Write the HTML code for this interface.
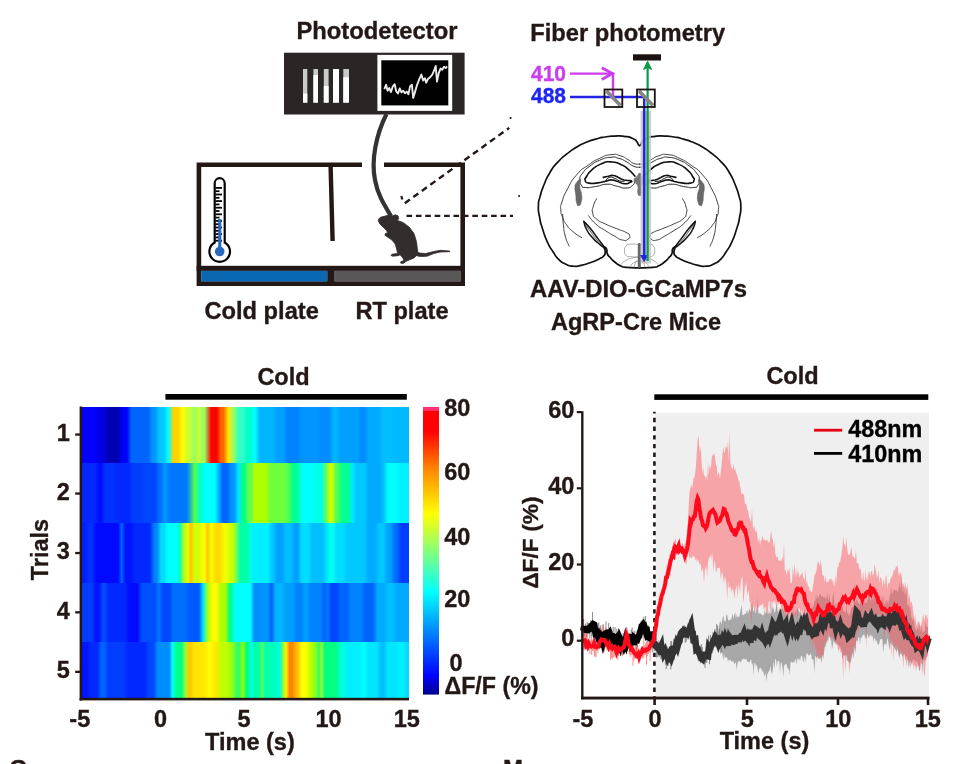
<!DOCTYPE html>
<html><head><meta charset="utf-8"><title>Figure</title>
<style>
html,body{margin:0;padding:0;background:#fff;}
body{width:968px;height:764px;overflow:hidden;font-family:"Liberation Sans",sans-serif;}
svg{display:block;font-family:"Liberation Sans",sans-serif;font-weight:bold;}
svg{will-change:transform;}
</style></head><body>
<svg width="968" height="764" viewBox="0 0 968 764">
<rect x="0" y="0" width="968" height="764" fill="#ffffff"/>
<g opacity="0.999">
<text x="296.4" y="39" font-size="23.5" text-anchor="start" fill="#231815" stroke="#231815" stroke-width="0.35" textLength="161" lengthAdjust="spacingAndGlyphs">Photodetector</text>
<rect x="284" y="52.7" width="180.6" height="61.8" fill="#2b2526"/>
<rect x="303" y="69" width="4.3" height="33.6" fill="#c9cccb"/>
<rect x="303" y="93.5" width="4.3" height="9.1" fill="#ffffff"/>
<rect x="313.4" y="69" width="4.6" height="33.6" fill="#c9cccb"/>
<rect x="313.4" y="75" width="4.6" height="27.6" fill="#ffffff"/>
<rect x="323.8" y="69" width="4.8" height="33.6" fill="#c9cccb"/>
<rect x="323.8" y="86" width="4.8" height="16.6" fill="#ffffff"/>
<rect x="333" y="69" width="6.0" height="33.6" fill="#c9cccb"/>
<rect x="333" y="69" width="6.0" height="33.6" fill="#ffffff"/>
<rect x="343.3" y="69" width="5.7" height="33.6" fill="#c9cccb"/>
<rect x="343.3" y="77.2" width="5.7" height="25.4" fill="#ffffff"/>
<rect x="377.4" y="54.9" width="74.8" height="56" fill="#ffffff"/>
<rect x="381.3" y="60.3" width="67" height="45.1" fill="#000000"/>
<polyline points="384.3,89.2 386.1,84.8 387.6,90.7 389.3,88.1 391.0,92.0 392.8,86.4 394.7,84.2 396.2,91.3 398.0,93.5 399.7,88.5 401.5,92.4 403.2,90.7 404.9,93.3 406.7,91.6 408.4,94.2 410.1,86.4 411.9,84.8 413.2,97.9 414.9,92.4 417.1,84.8 419.2,79.4 421.4,74.6 423.1,80.5 424.9,78.3 426.2,82.7 427.9,79.0 430.1,77.2 432.3,74.6 434.0,70.7 435.7,66.0 437.0,81.6 438.8,72.9 440.5,68.6 442.2,69.7 444.0,66.8 445.7,68.1 447.0,66.4" fill="none" stroke="#ffffff" stroke-width="1.9" stroke-opacity="0.92" stroke-linejoin="round"/>
<path d="M386.5,114 C376,135 371,160 375,180 C378,196 385,206 391,216" fill="none" stroke="#333333" stroke-width="4.2"/>
<path d="M362,164.7 H198.9 V283.6 H462.7 V164.7 H384" fill="none" stroke="#231815" stroke-width="4.6" stroke-linejoin="miter"/>
<rect x="196.6" y="265.8" width="268.4" height="5.1" fill="#231815"/>
<rect x="327.2" y="268" width="7.5" height="16" fill="#231815"/>
<rect x="201.2" y="270.9" width="126" height="10.6" fill="#0a67b2"/>
<rect x="334.7" y="270.9" width="126" height="10.6" fill="#595757"/>
<path d="M330.6,166 L332.6,241" stroke="#231815" stroke-width="4.4" fill="none"/>
<path d="M214.7,183.2 a5,5 0 0 1 10,0 V242.5 a10.3,10.3 0 1 1 -10,0 Z" fill="#ffffff" stroke="#000000" stroke-width="2.2"/>
<rect x="215.5" y="187.0" width="6.5" height="1.8" fill="#000"/>
<rect x="215.5" y="190.3" width="4" height="1.8" fill="#000"/>
<rect x="215.5" y="193.6" width="6.5" height="1.8" fill="#000"/>
<rect x="215.5" y="196.9" width="4" height="1.8" fill="#000"/>
<rect x="215.5" y="200.2" width="6.5" height="1.8" fill="#000"/>
<rect x="215.5" y="203.5" width="4" height="1.8" fill="#000"/>
<rect x="215.5" y="206.8" width="6.5" height="1.8" fill="#000"/>
<rect x="215.5" y="210.1" width="4" height="1.8" fill="#000"/>
<rect x="215.5" y="213.4" width="6.5" height="1.8" fill="#000"/>
<rect x="215.5" y="216.7" width="4" height="1.8" fill="#000"/>
<rect x="215.5" y="220.0" width="6.5" height="1.8" fill="#000"/>
<rect x="215.5" y="223.3" width="4" height="1.8" fill="#000"/>
<rect x="215.5" y="226.6" width="6.5" height="1.8" fill="#000"/>
<rect x="215.5" y="229.9" width="4" height="1.8" fill="#000"/>
<rect x="215.5" y="233.2" width="6.5" height="1.8" fill="#000"/>
<rect x="215.5" y="236.5" width="4" height="1.8" fill="#000"/>
<rect x="215.5" y="239.8" width="6.5" height="1.8" fill="#000"/>
<rect x="218.2" y="219" width="3.1" height="30" fill="#2a69bf"/>
<circle cx="219.7" cy="251.5" r="4.8" fill="#2a69bf"/>
<path d="M378.8,218.8 L381.0,217.1 L386.2,215.8 L389.1,214.8 L392.7,215.8 L395.2,214.8 L398.0,215.8 L398.8,218.4 L397.3,220.4 L402.9,222.4 L409.1,226.9 L414.0,233.5 L416.5,241.7 L417.3,248.2 L417.8,252.1 L419.7,253.1 L425.5,253.5 L433.7,251.5 L440.2,250.3 L449.7,251.0 L449.7,251.7 L440.2,252.0 L433.7,253.6 L427.1,256.2 L420.6,256.6 L416.5,255.7 L414.0,258.0 L409.1,260.0 L406.2,261.3 L403.2,263.4 L400.6,263.1 L400.9,261.6 L403.9,260.7 L402.9,258.0 L400.1,254.8 L398.0,255.7 L392.7,256.2 L390.8,255.3 L392.7,254.1 L397.6,253.5 L396.8,249.9 L395.2,244.1 L391.9,240.0 L387.8,237.2 L384.9,235.3 L385.4,233.5 L387.8,232.7 L386.2,230.2 L382.9,226.9 L379.6,223.7 L378.3,220.7Z" fill="#332d2e" stroke="#332d2e" stroke-width="0.8" stroke-linejoin="round"/>
<path d="M401.3,196 L402.3,199.5" fill="none" stroke="#231815" stroke-width="2.2"/>
<path d="M404.8,203.2 L509.2,127.9" fill="none" stroke="#231815" stroke-width="2.4" stroke-dasharray="6.2,4.3"/>
<circle cx="510.6" cy="118" r="1.1" fill="#231815"/>
<circle cx="519.1" cy="196.1" r="1.0" fill="#231815"/>
<path d="M406.5,215.8 H513" fill="none" stroke="#231815" stroke-width="2.2" stroke-dasharray="5.6,3.8"/>
<text x="204.4" y="319.2" font-size="23.5" text-anchor="start" fill="#231815" stroke="#231815" stroke-width="0.35" textLength="114.5" lengthAdjust="spacingAndGlyphs">Cold plate</text>
<text x="355.4" y="319.2" font-size="23.5" text-anchor="start" fill="#231815" stroke="#231815" stroke-width="0.35" textLength="93.2" lengthAdjust="spacingAndGlyphs">RT plate</text>
<text x="530.2" y="40.5" font-size="23.5" text-anchor="start" fill="#231815" stroke="#231815" stroke-width="0.35" textLength="195" lengthAdjust="spacingAndGlyphs">Fiber photometry</text>
<text x="531" y="80.6" font-size="21.5" text-anchor="start" fill="#cc3dee" stroke="#cc3dee" stroke-width="0.35" textLength="35" lengthAdjust="spacingAndGlyphs">410</text>
<text x="531" y="103.2" font-size="21.5" text-anchor="start" fill="#1d25f5" stroke="#1d25f5" stroke-width="0.35" textLength="35" lengthAdjust="spacingAndGlyphs">488</text>
<rect x="633" y="54.3" width="28" height="6.2" fill="#1a1311"/>

<path d="M639.7,145.6 C639.2,145.3 639.4,146.2 638.4,144.8 C637.3,143.4 638.7,143.6 636.6,141.4 C634.6,139.2 636.3,139.9 632.1,138.2 C627.9,136.4 629.9,137.0 624.1,136.3 C618.3,135.6 621.0,135.8 614.7,136.1 C608.3,136.3 611.5,136.0 605.2,137.0 C598.8,138.0 602.0,137.3 595.7,139.1 C589.4,140.9 592.5,139.7 586.2,142.3 C579.9,145.0 583.0,143.3 576.7,147.1 C570.4,150.9 573.6,148.6 567.2,153.7 C560.9,158.8 563.6,155.9 557.8,162.2 C551.9,168.6 554.4,165.1 549.8,172.7 C545.2,180.3 547.1,177.1 543.9,185.0 C540.7,192.9 542.0,189.4 540.1,196.4 C538.3,203.3 538.6,198.9 538.4,205.9 C538.2,212.8 538.2,209.5 539.6,217.2 C540.9,224.9 540.0,220.8 542.6,229.0 C545.2,237.2 543.9,234.3 547.3,241.9 C550.8,249.5 549.2,245.9 553.0,251.8 C556.8,257.6 554.6,255.3 558.7,259.3 C562.8,263.4 560.6,261.6 565.3,263.9 C570.1,266.2 567.7,265.7 572.9,266.2 C578.1,266.7 575.2,266.5 580.9,265.4 C586.6,264.3 583.9,264.9 590.0,262.8 C596.1,260.6 594.5,261.2 599.1,259.0 C603.7,256.7 601.6,258.1 603.7,255.9 C605.7,253.7 604.9,255.0 605.2,252.3 C605.4,249.7 604.3,249.5 604.4,248.0 C604.5,246.4 604.7,246.9 605.5,247.6 C606.4,248.2 606.3,247.8 606.9,249.9 C607.4,251.9 606.2,251.1 607.3,253.6 C608.3,256.2 607.6,254.7 610.1,257.4 C612.6,260.2 611.2,259.2 614.7,262.0 C618.1,264.8 616.4,264.0 620.3,265.8 C624.3,267.6 620.0,266.6 626.4,267.3 C632.9,268.0 635.3,267.7 639.7,267.9" fill="none" stroke="#111111" stroke-width="1.7" stroke-linecap="round" stroke-linejoin="round"/>
<path d="M639.5,145.6 C640.0,145.3 639.8,146.2 640.8,144.8 C641.9,143.4 640.5,143.6 642.6,141.4 C644.6,139.2 642.9,139.9 647.1,138.2 C651.3,136.4 649.3,137.0 655.1,136.3 C660.9,135.6 658.2,135.8 664.5,136.1 C670.9,136.3 667.7,136.0 674.0,137.0 C680.4,138.0 677.2,137.3 683.5,139.1 C689.8,140.9 686.7,139.7 693.0,142.3 C699.3,145.0 696.2,143.3 702.5,147.1 C708.8,150.9 705.6,148.6 712.0,153.7 C718.3,158.8 715.6,155.9 721.4,162.2 C727.3,168.6 724.8,165.1 729.4,172.7 C734.0,180.3 732.1,177.1 735.3,185.0 C738.5,192.9 737.2,189.4 739.1,196.4 C740.9,203.3 740.6,198.9 740.8,205.9 C741.0,212.8 741.0,209.5 739.6,217.2 C738.3,224.9 739.2,220.8 736.6,229.0 C734.0,237.2 735.3,234.3 731.9,241.9 C728.4,249.5 730.0,245.9 726.2,251.8 C722.4,257.6 724.6,255.3 720.5,259.3 C716.4,263.4 718.6,261.6 713.9,263.9 C709.1,266.2 711.5,265.7 706.3,266.2 C701.1,266.7 704.0,266.5 698.3,265.4 C692.6,264.3 695.3,264.9 689.2,262.8 C683.1,260.6 684.7,261.2 680.1,259.0 C675.5,256.7 677.6,258.1 675.5,255.9 C673.5,253.7 674.3,255.0 674.0,252.3 C673.8,249.7 674.9,249.5 674.8,248.0 C674.7,246.4 674.5,246.9 673.7,247.6 C672.8,248.2 672.9,247.8 672.3,249.9 C671.8,251.9 673.0,251.1 671.9,253.6 C670.9,256.2 671.6,254.7 669.1,257.4 C666.6,260.2 668.0,259.2 664.5,262.0 C661.1,264.8 662.8,264.0 658.9,265.8 C654.9,267.6 659.2,266.6 652.8,267.3 C646.3,268.0 643.9,267.7 639.5,267.9" fill="none" stroke="#111111" stroke-width="1.7" stroke-linecap="round" stroke-linejoin="round"/>
<path d="M639.7,164.1 C637.7,163.9 637.5,164.9 633.6,163.4 C629.7,161.9 632.4,162.1 627.9,159.6 C623.5,157.1 626.0,157.4 620.3,155.8 C614.7,154.1 617.8,153.8 610.9,154.7 C603.9,155.5 607.1,154.9 599.5,158.4 C591.9,162.0 595.7,159.8 588.1,165.3 C580.5,170.7 583.5,166.9 576.7,174.8 C569.9,182.6 572.5,179.7 567.6,188.8 C562.7,197.9 564.2,195.1 561.9,202.1 C559.7,209.0 560.5,204.5 560.8,209.7 C561.0,214.8 560.8,212.6 562.7,217.6 C564.6,222.7 563.1,220.1 566.5,224.8 C569.9,229.5 567.9,227.4 572.9,231.6 C578.0,235.9 578.7,235.7 581.7,237.7" fill="none" stroke="#111111" stroke-width="0.8" stroke-linecap="round" stroke-linejoin="round"/>
<path d="M639.5,164.1 C641.5,163.9 641.7,164.9 645.6,163.4 C649.5,161.9 646.8,162.1 651.3,159.6 C655.7,157.1 653.2,157.4 658.9,155.8 C664.5,154.1 661.4,153.8 668.3,154.7 C675.3,155.5 672.1,154.9 679.7,158.4 C687.3,162.0 683.5,159.8 691.1,165.3 C698.7,170.7 695.7,166.9 702.5,174.8 C709.3,182.6 706.7,179.7 711.6,188.8 C716.5,197.9 715.0,195.1 717.3,202.1 C719.5,209.0 718.7,204.5 718.4,209.7 C718.2,214.8 718.4,212.6 716.5,217.6 C714.6,222.7 716.1,220.1 712.7,224.8 C709.3,229.5 711.3,227.4 706.3,231.6 C701.2,235.9 700.5,235.7 697.5,237.7" fill="none" stroke="#111111" stroke-width="0.8" stroke-linecap="round" stroke-linejoin="round"/>
<path d="M562.7,214.4 C562.9,217.9 562.6,217.6 563.4,224.8 C564.3,232.1 563.4,229.1 565.3,236.2 C567.2,243.3 567.9,242.8 569.1,246.1" fill="none" stroke="#111111" stroke-width="0.8" stroke-linecap="round" stroke-linejoin="round"/>
<path d="M716.5,214.4 C716.3,217.9 716.6,217.6 715.8,224.8 C714.9,232.1 715.8,229.1 713.9,236.2 C712.0,243.3 711.3,242.8 710.1,246.1" fill="none" stroke="#111111" stroke-width="0.8" stroke-linecap="round" stroke-linejoin="round"/>
<path d="M639.7,167.2 C637.7,166.9 638.2,168.1 633.6,166.2 C629.1,164.3 631.1,164.1 626.0,161.5 C621.0,158.8 623.5,159.6 618.4,158.3 C613.4,156.9 617.2,156.6 610.9,157.3 C604.5,158.0 606.4,157.4 599.5,160.3 C592.5,163.3 595.6,161.9 590.0,166.0 C584.4,170.2 586.2,168.4 582.8,172.9 C579.4,177.3 580.3,175.3 579.8,179.3 C579.3,183.4 579.4,182.3 581.3,185.0 C583.2,187.7 580.6,187.0 585.4,187.5 C590.3,188.0 588.5,187.6 595.7,186.5 C602.9,185.4 600.1,184.4 607.1,184.2 C614.0,184.1 610.2,184.9 616.5,186.1 C622.9,187.4 620.7,188.3 626.0,188.0 C631.3,187.8 629.6,187.5 632.5,185.4 C635.4,183.2 634.0,182.8 634.8,181.6" fill="none" stroke="#111111" stroke-width="0.9" stroke-linecap="round" stroke-linejoin="round"/>
<path d="M639.5,167.2 C641.5,166.9 641.0,168.1 645.6,166.2 C650.1,164.3 648.1,164.1 653.2,161.5 C658.2,158.8 655.7,159.6 660.8,158.3 C665.8,156.9 662.0,156.6 668.3,157.3 C674.7,158.0 672.8,157.4 679.7,160.3 C686.7,163.3 683.6,161.9 689.2,166.0 C694.8,170.2 693.0,168.4 696.4,172.9 C699.8,177.3 698.9,175.3 699.4,179.3 C699.9,183.4 699.8,182.3 697.9,185.0 C696.0,187.7 698.6,187.0 693.8,187.5 C688.9,188.0 690.7,187.6 683.5,186.5 C676.3,185.4 679.1,184.4 672.1,184.2 C665.2,184.1 669.0,184.9 662.7,186.1 C656.3,187.4 658.5,188.3 653.2,188.0 C647.9,187.8 649.6,187.5 646.7,185.4 C643.8,183.2 645.2,182.8 644.4,181.6" fill="none" stroke="#111111" stroke-width="0.9" stroke-linecap="round" stroke-linejoin="round"/>
<path d="M634.9,176.1 C632.7,173.8 633.2,173.2 628.3,169.3 C623.4,165.3 626.2,166.8 620.3,164.3 C614.5,161.9 617.2,162.1 610.9,161.9 C604.5,161.7 607.7,161.1 601.4,163.8 C595.1,166.4 596.8,165.6 591.9,169.8 C587.0,174.1 588.8,172.9 586.6,176.5 C584.4,180.0 584.5,178.2 585.3,180.4 C586.0,182.7 584.8,182.3 588.9,183.1 C593.0,183.9 592.0,183.5 597.6,182.9 C603.1,182.3 601.0,182.2 605.5,181.2 C610.1,180.2 607.4,179.9 611.2,179.9 C615.0,179.9 612.6,179.9 616.9,181.2 C621.2,182.5 620.0,183.2 624.1,183.7 C628.3,184.2 627.2,183.7 629.4,182.7 C631.7,181.8 632.7,181.7 631.0,180.8 C629.2,179.9 628.3,181.2 624.1,180.1 C620.0,178.9 622.1,178.9 618.4,177.4 C614.8,175.9 616.5,175.9 613.1,175.5 C609.7,175.1 611.5,175.6 608.2,176.3 C604.9,176.9 604.9,177.0 603.3,177.4" fill="none" stroke="#111111" stroke-width="1.6" stroke-linecap="round" stroke-linejoin="round"/>
<path d="M644.3,176.1 C646.5,173.8 646.0,173.2 650.9,169.3 C655.8,165.3 653.0,166.8 658.9,164.3 C664.7,161.9 662.0,162.1 668.3,161.9 C674.7,161.7 671.5,161.1 677.8,163.8 C684.1,166.4 682.4,165.6 687.3,169.8 C692.2,174.1 690.4,172.9 692.6,176.5 C694.8,180.0 694.7,178.2 693.9,180.4 C693.2,182.7 694.4,182.3 690.3,183.1 C686.2,183.9 687.2,183.5 681.6,182.9 C676.1,182.3 678.2,182.2 673.7,181.2 C669.1,180.2 671.8,179.9 668.0,179.9 C664.2,179.9 666.6,179.9 662.3,181.2 C658.0,182.5 659.2,183.2 655.1,183.7 C650.9,184.2 652.0,183.7 649.8,182.7 C647.5,181.8 646.5,181.7 648.2,180.8 C650.0,179.9 650.9,181.2 655.1,180.1 C659.2,178.9 657.1,178.9 660.8,177.4 C664.4,175.9 662.7,175.9 666.1,175.5 C669.5,175.1 667.7,175.6 671.0,176.3 C674.3,176.9 674.3,177.0 675.9,177.4" fill="none" stroke="#111111" stroke-width="1.6" stroke-linecap="round" stroke-linejoin="round"/>
<path d="M605.5,181.2 C606.8,179.9 606.3,178.4 609.3,177.4 C612.4,176.5 611.3,177.2 614.7,178.4 C618.0,179.5 616.2,179.8 619.4,180.8 C622.6,181.9 622.6,181.3 624.1,181.6" fill="none" stroke="#111111" stroke-width="1.0" stroke-linecap="round" stroke-linejoin="round"/>
<path d="M673.7,181.2 C672.4,179.9 672.9,178.4 669.9,177.4 C666.8,176.5 667.9,177.2 664.5,178.4 C661.2,179.5 663.0,179.8 659.8,180.8 C656.6,181.9 656.6,181.3 655.1,181.6" fill="none" stroke="#111111" stroke-width="1.0" stroke-linecap="round" stroke-linejoin="round"/>
<path d="M579.8,179.7 C578.5,180.1 578.5,179.9 576.9,182.3 C575.3,184.7 575.4,182.8 575.0,186.9 C574.6,190.9 575.2,189.2 575.8,194.5 C576.3,199.8 575.6,199.2 576.7,202.8 C577.8,206.5 577.5,206.0 579.0,205.5 C580.5,205.0 580.5,205.0 581.3,201.3 C582.1,197.6 582.0,199.3 581.5,194.5 C581.0,189.7 580.0,191.3 579.8,186.9 C579.5,182.5 580.7,183.6 580.7,181.2 C580.7,178.8 581.0,179.3 579.8,179.7Z" fill="#6a6a6a" stroke="#555" stroke-width="0.6" stroke-linecap="round" stroke-linejoin="round"/>
<path d="M699.4,179.7 C700.7,180.1 700.7,179.9 702.3,182.3 C703.9,184.7 703.8,182.8 704.2,186.9 C704.6,190.9 704.0,189.2 703.4,194.5 C702.9,199.8 703.6,199.2 702.5,202.8 C701.4,206.5 701.7,206.0 700.2,205.5 C698.7,205.0 698.7,205.0 697.9,201.3 C697.1,197.6 697.2,199.3 697.7,194.5 C698.2,189.7 699.2,191.3 699.4,186.9 C699.7,182.5 698.5,183.6 698.5,181.2 C698.5,178.8 698.2,179.3 699.4,179.7Z" fill="#6a6a6a" stroke="#555" stroke-width="0.6" stroke-linecap="round" stroke-linejoin="round"/>
<path d="M596.6,198.7 C595.6,201.1 594.7,200.9 593.4,205.9 C592.1,210.8 591.8,209.0 592.8,213.4 C593.9,217.9 592.5,215.7 596.6,219.1 C600.7,222.6 598.5,220.7 605.2,223.9 C611.8,227.0 609.6,225.8 616.5,228.6 C623.5,231.5 621.7,230.1 626.0,232.4 C630.3,234.7 628.8,233.2 629.4,235.4 C630.1,237.7 630.3,237.7 627.9,239.2 C625.5,240.8 626.7,241.0 622.2,240.0 C617.8,239.0 620.3,239.4 614.7,236.2 C609.0,233.0 611.5,234.6 605.2,230.5 C598.8,226.4 601.2,228.8 595.7,223.9 C590.1,218.9 590.9,218.4 588.5,215.7" fill="none" stroke="#111111" stroke-width="0.8" stroke-linecap="round" stroke-linejoin="round"/>
<path d="M682.6,198.7 C683.6,201.1 684.5,200.9 685.8,205.9 C687.1,210.8 687.4,209.0 686.4,213.4 C685.3,217.9 686.7,215.7 682.6,219.1 C678.5,222.6 680.7,220.7 674.0,223.9 C667.4,227.0 669.6,225.8 662.7,228.6 C655.7,231.5 657.5,230.1 653.2,232.4 C648.9,234.7 650.4,233.2 649.8,235.4 C649.1,237.7 648.9,237.7 651.3,239.2 C653.7,240.8 652.5,241.0 657.0,240.0 C661.4,239.0 658.9,239.4 664.5,236.2 C670.2,233.0 667.7,234.6 674.0,230.5 C680.4,226.4 678.0,228.8 683.5,223.9 C689.1,218.9 688.3,218.4 690.7,215.7" fill="none" stroke="#111111" stroke-width="0.8" stroke-linecap="round" stroke-linejoin="round"/>
<path d="M583.9,221.4 C584.7,223.8 583.5,223.4 586.2,228.6 C588.9,233.9 587.5,232.0 591.9,237.1 C596.3,242.3 595.3,240.6 599.5,244.2 C603.7,247.8 602.8,246.7 604.4,248.0" fill="none" stroke="#111111" stroke-width="1.5" stroke-linecap="round" stroke-linejoin="round"/>
<path d="M695.3,221.4 C694.5,223.8 695.7,223.4 693.0,228.6 C690.3,233.9 691.7,232.0 687.3,237.1 C682.9,242.3 683.9,240.6 679.7,244.2 C675.5,247.8 676.4,246.7 674.8,248.0" fill="none" stroke="#111111" stroke-width="1.5" stroke-linecap="round" stroke-linejoin="round"/>
<path d="M583.9,221.4 C586.1,223.8 586.3,223.7 590.4,228.6 C594.4,233.5 592.3,231.1 596.1,236.2 C599.9,241.3 598.6,239.6 601.8,243.8 C604.9,248.0 604.3,247.1 605.5,248.7" fill="none" stroke="#111111" stroke-width="1.5" stroke-linecap="round" stroke-linejoin="round"/>
<path d="M695.3,221.4 C693.1,223.8 692.9,223.7 688.8,228.6 C684.8,233.5 686.9,231.1 683.1,236.2 C679.3,241.3 680.6,239.6 677.4,243.8 C674.3,248.0 674.9,247.1 673.7,248.7" fill="none" stroke="#111111" stroke-width="1.5" stroke-linecap="round" stroke-linejoin="round"/>
<path d="M585.8,224.8 C587.6,227.4 587.2,227.0 591.1,232.4 C595.1,237.8 593.8,236.4 597.6,240.9 C601.4,245.5 600.9,244.4 602.5,246.1" fill="none" stroke="#111111" stroke-width="0.7" stroke-linecap="round" stroke-linejoin="round"/>
<path d="M693.4,224.8 C691.6,227.4 692.0,227.0 688.1,232.4 C684.1,237.8 685.4,236.4 681.6,240.9 C677.8,245.5 678.3,244.4 676.7,246.1" fill="none" stroke="#111111" stroke-width="0.7" stroke-linecap="round" stroke-linejoin="round"/>
<path d="M639.7,244.5 C636.4,244.4 634.4,243.7 629.8,244.2 C625.3,244.7 627.8,244.0 626.0,246.1 C624.3,248.1 624.5,247.4 624.5,250.4 C624.5,253.5 623.9,253.1 626.0,255.2 C628.1,257.3 626.2,256.2 630.8,256.7 C635.3,257.2 636.7,256.7 639.7,256.7" fill="none" stroke="#777" stroke-width="0.6" stroke-linecap="round" stroke-linejoin="round"/>
<path d="M639.5,244.5 C642.8,244.4 644.8,243.7 649.4,244.2 C653.9,244.7 651.4,244.0 653.2,246.1 C654.9,248.1 654.7,247.4 654.7,250.4 C654.7,253.5 655.3,253.1 653.2,255.2 C651.1,257.3 653.0,256.2 648.4,256.7 C643.9,257.2 642.5,256.7 639.5,256.7" fill="none" stroke="#777" stroke-width="0.6" stroke-linecap="round" stroke-linejoin="round"/>
<path d="M639.7,257.4 C637.0,257.7 636.6,257.1 631.7,258.2 C626.9,259.3 628.6,258.8 625.1,260.9 C621.6,262.9 622.6,263.1 621.3,264.3" fill="none" stroke="#777" stroke-width="0.6" stroke-linecap="round" stroke-linejoin="round"/>
<path d="M639.5,257.4 C642.2,257.7 642.6,257.1 647.5,258.2 C652.3,259.3 650.6,258.8 654.1,260.9 C657.6,262.9 656.6,263.1 657.9,264.3" fill="none" stroke="#777" stroke-width="0.6" stroke-linecap="round" stroke-linejoin="round"/>
<path d="M639.7,260.9 C637.7,261.5 636.6,261.1 633.6,262.8 C630.6,264.4 631.7,264.8 630.8,265.8" fill="none" stroke="#777" stroke-width="0.6" stroke-linecap="round" stroke-linejoin="round"/>
<path d="M639.5,260.9 C641.5,261.5 642.6,261.1 645.6,262.8 C648.6,264.4 647.5,264.8 648.4,265.8" fill="none" stroke="#777" stroke-width="0.6" stroke-linecap="round" stroke-linejoin="round"/>
<path d="M636.5,260.9 C636.0,261.8 635.8,261.7 635.1,263.7 C634.5,265.7 634.8,265.8 634.6,266.9" fill="none" stroke="#777" stroke-width="0.6" stroke-linecap="round" stroke-linejoin="round"/>
<path d="M642.7,260.9 C643.2,261.8 643.4,261.7 644.1,263.7 C644.7,265.7 644.4,265.8 644.6,266.9" fill="none" stroke="#777" stroke-width="0.6" stroke-linecap="round" stroke-linejoin="round"/>
<path d="M639.7,173.2 C638.0,173.2 638.9,174.2 637.0,176.5 C635.1,178.7 634.1,177.5 634.0,180.1 C633.9,182.6 635.3,181.8 636.6,184.0 C638.0,186.3 637.6,183.9 638.0,186.9 C638.4,189.9 637.2,190.1 637.8,193.0 C638.4,195.9 638.5,195.6 639.7,195.6 C640.9,195.6 640.9,195.9 641.4,193.0 C641.9,190.1 640.8,189.9 641.2,186.9 C641.6,183.9 641.2,186.3 642.6,184.0 C643.9,181.8 645.3,182.6 645.2,180.1 C645.1,177.5 644.0,178.7 642.2,176.5 C640.3,174.2 641.4,173.2 639.7,173.2Z" fill="#777" stroke="#555" stroke-width="0.5"/>
<rect x="637.8" y="243" width="3" height="25" fill="#666" rx="1.4"/>
<rect x="640.6" y="111" width="10.4" height="152.5" fill="#c4c4c4" fill-opacity="0.85"/>
<path d="M570,73.6 H613 V97" fill="none" stroke="#cc3dee" stroke-width="2.4"/>
<path d="M601.8,67.8 L612.4,73.6 L601.8,79.4" fill="none" stroke="#cc3dee" stroke-width="2.8"/>
<path d="M570,97 H644.2 V258" fill="none" stroke="#2323e6" stroke-width="2.5"/>
<path d="M640.6,255 L644.2,261.5 L647.5,255" fill="#2323e6" stroke="#2323e6" stroke-width="1"/>
<path d="M647.6,261 V64" fill="none" stroke="#0e9a4a" stroke-width="2.2"/>
<path d="M643.6,69.5 L647.6,61.2 L651.6,69.5 L647.6,67.5 Z" fill="#0e9a4a" stroke="#0e9a4a" stroke-width="1"/>
<path d="M606.5,91.0 L620.5,105.5" stroke="#858585" stroke-width="3.6"/>
<rect x="604.5" y="89.5" width="17.8" height="17.5" fill="none" stroke="#1a1311" stroke-width="1.8"/>
<path d="M639,91.0 L653,105.5" stroke="#858585" stroke-width="3.6"/>
<rect x="637" y="89.5" width="17.8" height="17.5" fill="none" stroke="#1a1311" stroke-width="1.8"/>
<text x="530" y="296.6" font-size="23.5" text-anchor="start" fill="#231815" stroke="#231815" stroke-width="0.35" textLength="217" lengthAdjust="spacingAndGlyphs">AAV-DIO-GCaMP7s</text>
<text x="551" y="330" font-size="23.5" text-anchor="start" fill="#231815" stroke="#231815" stroke-width="0.35" textLength="170" lengthAdjust="spacingAndGlyphs">AgRP-Cre Mice</text>
<defs><linearGradient id="hr1" gradientUnits="userSpaceOnUse" x1="82.0" y1="0" x2="408.8" y2="0"><stop offset="0.0060" stop-color="#0000ff"/><stop offset="0.0409" stop-color="#0000ff"/><stop offset="0.0544" stop-color="#0000e1"/><stop offset="0.0678" stop-color="#0000e1"/><stop offset="0.0812" stop-color="#0000b4"/><stop offset="0.1108" stop-color="#0000b4"/><stop offset="0.1242" stop-color="#0000fa"/><stop offset="0.1376" stop-color="#0000fa"/><stop offset="0.1511" stop-color="#0064ff"/><stop offset="0.2021" stop-color="#0064ff"/><stop offset="0.2156" stop-color="#0096ff"/><stop offset="0.2236" stop-color="#0096ff"/><stop offset="0.2371" stop-color="#00c8ff"/><stop offset="0.2505" stop-color="#00c8ff"/><stop offset="0.2634" stop-color="#00ffff"/><stop offset="0.2645" stop-color="#00ffff"/><stop offset="0.2801" stop-color="#ffd200"/><stop offset="0.2935" stop-color="#ffd200"/><stop offset="0.3069" stop-color="#ffff00"/><stop offset="0.3096" stop-color="#ffff00"/><stop offset="0.3231" stop-color="#c8ff32"/><stop offset="0.3311" stop-color="#c8ff32"/><stop offset="0.3428" stop-color="#96ff64"/><stop offset="0.3436" stop-color="#96ff64"/><stop offset="0.3553" stop-color="#c8ff32"/><stop offset="0.3580" stop-color="#c8ff32"/><stop offset="0.3714" stop-color="#96ff64"/><stop offset="0.3752" stop-color="#96ff64"/><stop offset="0.3956" stop-color="#ff0000"/><stop offset="0.4117" stop-color="#ff0000"/><stop offset="0.4252" stop-color="#ff6400"/><stop offset="0.4332" stop-color="#ff6400"/><stop offset="0.4467" stop-color="#ffe600"/><stop offset="0.4493" stop-color="#ffe600"/><stop offset="0.4628" stop-color="#96ff64"/><stop offset="0.4654" stop-color="#96ff64"/><stop offset="0.4789" stop-color="#32ffc8"/><stop offset="0.4923" stop-color="#32ffc8"/><stop offset="0.5058" stop-color="#00ffc8"/><stop offset="0.5073" stop-color="#00ffc8"/><stop offset="0.5148" stop-color="#00ffc8"/><stop offset="0.5150" stop-color="#00ffc8"/><stop offset="0.5225" stop-color="#00ffff"/><stop offset="0.5305" stop-color="#00ffff"/><stop offset="0.5439" stop-color="#00b4ff"/><stop offset="0.5842" stop-color="#00b4ff"/><stop offset="0.5977" stop-color="#00a0ff"/><stop offset="0.6165" stop-color="#00a0ff"/><stop offset="0.6299" stop-color="#0082ff"/><stop offset="0.6595" stop-color="#0082ff"/><stop offset="0.6729" stop-color="#0096ff"/><stop offset="0.7186" stop-color="#0096ff"/><stop offset="0.7320" stop-color="#008cff"/><stop offset="0.7562" stop-color="#008cff"/><stop offset="0.7697" stop-color="#00b4ff"/><stop offset="0.7777" stop-color="#00b4ff"/><stop offset="0.7912" stop-color="#00a0ff"/><stop offset="0.8422" stop-color="#00a0ff"/><stop offset="0.8556" stop-color="#008cff"/><stop offset="0.8637" stop-color="#008cff"/><stop offset="0.8771" stop-color="#00aaff"/><stop offset="0.9067" stop-color="#00aaff"/><stop offset="0.9201" stop-color="#00beff"/><stop offset="0.9497" stop-color="#00beff"/><stop offset="0.9631" stop-color="#00b9ff"/><stop offset="0.9927" stop-color="#00b9ff"/></linearGradient><linearGradient id="hr2" gradientUnits="userSpaceOnUse" x1="82.0" y1="0" x2="408.8" y2="0"><stop offset="0.0060" stop-color="#0028ff"/><stop offset="0.0409" stop-color="#0028ff"/><stop offset="0.0544" stop-color="#000aff"/><stop offset="0.0570" stop-color="#000aff"/><stop offset="0.0705" stop-color="#0032ff"/><stop offset="0.0946" stop-color="#0032ff"/><stop offset="0.1081" stop-color="#0028ff"/><stop offset="0.1430" stop-color="#0028ff"/><stop offset="0.1565" stop-color="#003cff"/><stop offset="0.1806" stop-color="#003cff"/><stop offset="0.1941" stop-color="#0046ff"/><stop offset="0.2236" stop-color="#0046ff"/><stop offset="0.2371" stop-color="#006eff"/><stop offset="0.2397" stop-color="#006eff"/><stop offset="0.2532" stop-color="#0096ff"/><stop offset="0.2558" stop-color="#0096ff"/><stop offset="0.2693" stop-color="#0078ff"/><stop offset="0.3203" stop-color="#0078ff"/><stop offset="0.3446" stop-color="#50ff50"/><stop offset="0.3472" stop-color="#50ff50"/><stop offset="0.3607" stop-color="#00ffc8"/><stop offset="0.3633" stop-color="#00ffc8"/><stop offset="0.3768" stop-color="#00ffff"/><stop offset="0.4063" stop-color="#00ffff"/><stop offset="0.4180" stop-color="#00b4ff"/><stop offset="0.4189" stop-color="#00b4ff"/><stop offset="0.4305" stop-color="#0064ff"/><stop offset="0.4439" stop-color="#0064ff"/><stop offset="0.4574" stop-color="#0096ff"/><stop offset="0.4654" stop-color="#0096ff"/><stop offset="0.4783" stop-color="#00e6ff"/><stop offset="0.4794" stop-color="#00e6ff"/><stop offset="0.4923" stop-color="#00ff82"/><stop offset="0.4977" stop-color="#00ff82"/><stop offset="0.5089" stop-color="#64ff50"/><stop offset="0.5096" stop-color="#64ff50"/><stop offset="0.5185" stop-color="#64ff50"/><stop offset="0.5193" stop-color="#64ff50"/><stop offset="0.5275" stop-color="#b4ff00"/><stop offset="0.5281" stop-color="#b4ff00"/><stop offset="0.5386" stop-color="#aaff00"/><stop offset="0.5627" stop-color="#aaff00"/><stop offset="0.5762" stop-color="#6eff3c"/><stop offset="0.6165" stop-color="#6eff3c"/><stop offset="0.6299" stop-color="#50ff50"/><stop offset="0.6326" stop-color="#50ff50"/><stop offset="0.6461" stop-color="#00ff96"/><stop offset="0.6595" stop-color="#00ff96"/><stop offset="0.6729" stop-color="#00ffff"/><stop offset="0.7025" stop-color="#00ffff"/><stop offset="0.7159" stop-color="#00ffe6"/><stop offset="0.7347" stop-color="#00ffe6"/><stop offset="0.7464" stop-color="#64ff50"/><stop offset="0.7472" stop-color="#64ff50"/><stop offset="0.7589" stop-color="#d2ff00"/><stop offset="0.7643" stop-color="#d2ff00"/><stop offset="0.7777" stop-color="#50ff50"/><stop offset="0.7831" stop-color="#50ff50"/><stop offset="0.7965" stop-color="#00ff96"/><stop offset="0.8153" stop-color="#00ff96"/><stop offset="0.8270" stop-color="#00e6ff"/><stop offset="0.8278" stop-color="#00e6ff"/><stop offset="0.8395" stop-color="#00c8ff"/><stop offset="0.8637" stop-color="#00c8ff"/><stop offset="0.8771" stop-color="#00aaff"/><stop offset="0.9120" stop-color="#00aaff"/><stop offset="0.9237" stop-color="#00c8ff"/><stop offset="0.9246" stop-color="#00c8ff"/><stop offset="0.9363" stop-color="#00ffff"/><stop offset="0.9604" stop-color="#00ffff"/><stop offset="0.9739" stop-color="#00f0ff"/><stop offset="0.9927" stop-color="#00f0ff"/></linearGradient><linearGradient id="hr3" gradientUnits="userSpaceOnUse" x1="82.0" y1="0" x2="408.8" y2="0"><stop offset="0.0060" stop-color="#001eff"/><stop offset="0.0086" stop-color="#001eff"/><stop offset="0.0221" stop-color="#0032ff"/><stop offset="0.0301" stop-color="#0032ff"/><stop offset="0.0436" stop-color="#000aff"/><stop offset="0.1108" stop-color="#000aff"/><stop offset="0.1212" stop-color="#0064ff"/><stop offset="0.1218" stop-color="#0064ff"/><stop offset="0.1323" stop-color="#0014ff"/><stop offset="0.1484" stop-color="#0014ff"/><stop offset="0.1618" stop-color="#0028ff"/><stop offset="0.2075" stop-color="#0028ff"/><stop offset="0.2209" stop-color="#0082ff"/><stop offset="0.2290" stop-color="#0082ff"/><stop offset="0.2424" stop-color="#00dcff"/><stop offset="0.2505" stop-color="#00dcff"/><stop offset="0.2639" stop-color="#00ffff"/><stop offset="0.2881" stop-color="#00ffff"/><stop offset="0.2985" stop-color="#00ffc8"/><stop offset="0.2992" stop-color="#00ffc8"/><stop offset="0.3091" stop-color="#96ff32"/><stop offset="0.3101" stop-color="#96ff32"/><stop offset="0.3225" stop-color="#e6ff00"/><stop offset="0.3236" stop-color="#e6ff00"/><stop offset="0.3336" stop-color="#ffc300"/><stop offset="0.3340" stop-color="#ffc300"/><stop offset="0.3446" stop-color="#d2ff00"/><stop offset="0.3580" stop-color="#d2ff00"/><stop offset="0.3714" stop-color="#ffff00"/><stop offset="0.3741" stop-color="#ffff00"/><stop offset="0.3845" stop-color="#ffc800"/><stop offset="0.3852" stop-color="#ffc800"/><stop offset="0.3951" stop-color="#f0ff00"/><stop offset="0.3961" stop-color="#f0ff00"/><stop offset="0.4090" stop-color="#ffdc00"/><stop offset="0.4224" stop-color="#ffdc00"/><stop offset="0.4359" stop-color="#f0ff00"/><stop offset="0.4439" stop-color="#f0ff00"/><stop offset="0.4574" stop-color="#c8ff00"/><stop offset="0.4601" stop-color="#c8ff00"/><stop offset="0.4717" stop-color="#78ff50"/><stop offset="0.4726" stop-color="#78ff50"/><stop offset="0.4843" stop-color="#00ffaa"/><stop offset="0.5073" stop-color="#00ffaa"/><stop offset="0.5148" stop-color="#00ffe6"/><stop offset="0.5150" stop-color="#00ffe6"/><stop offset="0.5225" stop-color="#00f0ff"/><stop offset="0.5681" stop-color="#00f0ff"/><stop offset="0.5816" stop-color="#00c8ff"/><stop offset="0.5842" stop-color="#00c8ff"/><stop offset="0.5977" stop-color="#00a0ff"/><stop offset="0.6111" stop-color="#00a0ff"/><stop offset="0.6246" stop-color="#00beff"/><stop offset="0.6380" stop-color="#00beff"/><stop offset="0.6514" stop-color="#00a0ff"/><stop offset="0.6595" stop-color="#00a0ff"/><stop offset="0.6729" stop-color="#00dcff"/><stop offset="0.6917" stop-color="#00dcff"/><stop offset="0.7052" stop-color="#00beff"/><stop offset="0.7347" stop-color="#00beff"/><stop offset="0.7464" stop-color="#00dcff"/><stop offset="0.7472" stop-color="#00dcff"/><stop offset="0.7589" stop-color="#00fff0"/><stop offset="0.7669" stop-color="#00fff0"/><stop offset="0.7804" stop-color="#00dcff"/><stop offset="0.7992" stop-color="#00dcff"/><stop offset="0.8127" stop-color="#00c8ff"/><stop offset="0.8637" stop-color="#00c8ff"/><stop offset="0.8771" stop-color="#00aaff"/><stop offset="0.8959" stop-color="#00aaff"/><stop offset="0.9094" stop-color="#00c8ff"/><stop offset="0.9228" stop-color="#00c8ff"/><stop offset="0.9363" stop-color="#00a0ff"/><stop offset="0.9443" stop-color="#00a0ff"/><stop offset="0.9577" stop-color="#006eff"/><stop offset="0.9631" stop-color="#006eff"/><stop offset="0.9766" stop-color="#003cff"/><stop offset="0.9927" stop-color="#003cff"/></linearGradient><linearGradient id="hr4" gradientUnits="userSpaceOnUse" x1="82.0" y1="0" x2="408.8" y2="0"><stop offset="0.0060" stop-color="#003cff"/><stop offset="0.0301" stop-color="#003cff"/><stop offset="0.0436" stop-color="#0014ff"/><stop offset="0.0516" stop-color="#0014ff"/><stop offset="0.0651" stop-color="#0050ff"/><stop offset="0.0678" stop-color="#0050ff"/><stop offset="0.0812" stop-color="#0028ff"/><stop offset="0.1322" stop-color="#0028ff"/><stop offset="0.1457" stop-color="#000aff"/><stop offset="0.1699" stop-color="#000aff"/><stop offset="0.1833" stop-color="#0050ff"/><stop offset="0.2236" stop-color="#0050ff"/><stop offset="0.2353" stop-color="#0078ff"/><stop offset="0.2361" stop-color="#0078ff"/><stop offset="0.2478" stop-color="#0046ff"/><stop offset="0.2666" stop-color="#0046ff"/><stop offset="0.2801" stop-color="#006eff"/><stop offset="0.3150" stop-color="#006eff"/><stop offset="0.3284" stop-color="#005aff"/><stop offset="0.3580" stop-color="#005aff"/><stop offset="0.3706" stop-color="#00e6ff"/><stop offset="0.3711" stop-color="#00e6ff"/><stop offset="0.3791" stop-color="#64ff64"/><stop offset="0.3798" stop-color="#64ff64"/><stop offset="0.3884" stop-color="#c8ff00"/><stop offset="0.3893" stop-color="#c8ff00"/><stop offset="0.4010" stop-color="#fffa00"/><stop offset="0.4117" stop-color="#fffa00"/><stop offset="0.4252" stop-color="#aaff00"/><stop offset="0.4386" stop-color="#aaff00"/><stop offset="0.4520" stop-color="#00ff82"/><stop offset="0.4547" stop-color="#00ff82"/><stop offset="0.4682" stop-color="#00ffff"/><stop offset="0.5073" stop-color="#00ffff"/><stop offset="0.5148" stop-color="#00ffff"/><stop offset="0.5150" stop-color="#00ffff"/><stop offset="0.5278" stop-color="#008cff"/><stop offset="0.5359" stop-color="#008cff"/><stop offset="0.5493" stop-color="#0096ff"/><stop offset="0.5681" stop-color="#0096ff"/><stop offset="0.5798" stop-color="#0064ff"/><stop offset="0.5806" stop-color="#0064ff"/><stop offset="0.5923" stop-color="#00b4ff"/><stop offset="0.6111" stop-color="#00b4ff"/><stop offset="0.6246" stop-color="#00a0ff"/><stop offset="0.6433" stop-color="#00a0ff"/><stop offset="0.6568" stop-color="#0082ff"/><stop offset="0.6702" stop-color="#0082ff"/><stop offset="0.6837" stop-color="#00a0ff"/><stop offset="0.6863" stop-color="#00a0ff"/><stop offset="0.6998" stop-color="#0082ff"/><stop offset="0.7293" stop-color="#0082ff"/><stop offset="0.7410" stop-color="#0064ff"/><stop offset="0.7419" stop-color="#0064ff"/><stop offset="0.7517" stop-color="#0078ff"/><stop offset="0.7526" stop-color="#0078ff"/><stop offset="0.7643" stop-color="#0046ff"/><stop offset="0.7777" stop-color="#0046ff"/><stop offset="0.7912" stop-color="#0064ff"/><stop offset="0.8099" stop-color="#0064ff"/><stop offset="0.8234" stop-color="#0082ff"/><stop offset="0.8529" stop-color="#0082ff"/><stop offset="0.8664" stop-color="#0064ff"/><stop offset="0.8905" stop-color="#0064ff"/><stop offset="0.9040" stop-color="#00aaff"/><stop offset="0.9228" stop-color="#00aaff"/><stop offset="0.9363" stop-color="#00beff"/><stop offset="0.9497" stop-color="#00beff"/><stop offset="0.9631" stop-color="#00aaff"/><stop offset="0.9927" stop-color="#00aaff"/></linearGradient><linearGradient id="hr5" gradientUnits="userSpaceOnUse" x1="82.0" y1="0" x2="408.8" y2="0"><stop offset="0.0060" stop-color="#0014ff"/><stop offset="0.0140" stop-color="#0014ff"/><stop offset="0.0275" stop-color="#0028ff"/><stop offset="0.0463" stop-color="#0028ff"/><stop offset="0.0597" stop-color="#0064ff"/><stop offset="0.0678" stop-color="#0064ff"/><stop offset="0.0812" stop-color="#003cff"/><stop offset="0.1269" stop-color="#003cff"/><stop offset="0.1403" stop-color="#0028ff"/><stop offset="0.1914" stop-color="#0028ff"/><stop offset="0.2048" stop-color="#0046ff"/><stop offset="0.2182" stop-color="#0046ff"/><stop offset="0.2317" stop-color="#008cff"/><stop offset="0.2666" stop-color="#008cff"/><stop offset="0.2770" stop-color="#00ffff"/><stop offset="0.2777" stop-color="#00ffff"/><stop offset="0.2881" stop-color="#00ff8c"/><stop offset="0.3042" stop-color="#00ff8c"/><stop offset="0.3159" stop-color="#96ff32"/><stop offset="0.3168" stop-color="#96ff32"/><stop offset="0.3284" stop-color="#ffc800"/><stop offset="0.3311" stop-color="#ffc800"/><stop offset="0.3446" stop-color="#ffe600"/><stop offset="0.3741" stop-color="#ffe600"/><stop offset="0.3875" stop-color="#fffa00"/><stop offset="0.3956" stop-color="#fffa00"/><stop offset="0.4090" stop-color="#ffe600"/><stop offset="0.4117" stop-color="#ffe600"/><stop offset="0.4252" stop-color="#beff00"/><stop offset="0.4439" stop-color="#beff00"/><stop offset="0.4574" stop-color="#96ff14"/><stop offset="0.4601" stop-color="#96ff14"/><stop offset="0.4735" stop-color="#32ff64"/><stop offset="0.4816" stop-color="#32ff64"/><stop offset="0.4920" stop-color="#96ff00"/><stop offset="0.4926" stop-color="#96ff00"/><stop offset="0.5031" stop-color="#00ff82"/><stop offset="0.5073" stop-color="#00ff82"/><stop offset="0.5173" stop-color="#00ffe6"/><stop offset="0.5179" stop-color="#00ffe6"/><stop offset="0.5278" stop-color="#00ffaa"/><stop offset="0.5412" stop-color="#00ffaa"/><stop offset="0.5517" stop-color="#50ff64"/><stop offset="0.5523" stop-color="#50ff64"/><stop offset="0.5628" stop-color="#00ffb4"/><stop offset="0.5842" stop-color="#00ffb4"/><stop offset="0.5977" stop-color="#00ffdc"/><stop offset="0.6057" stop-color="#00ffdc"/><stop offset="0.6162" stop-color="#96ff32"/><stop offset="0.6168" stop-color="#96ff32"/><stop offset="0.6242" stop-color="#fff000"/><stop offset="0.6249" stop-color="#fff000"/><stop offset="0.6353" stop-color="#ff8200"/><stop offset="0.6433" stop-color="#ff8200"/><stop offset="0.6568" stop-color="#ffbe00"/><stop offset="0.6595" stop-color="#ffbe00"/><stop offset="0.6729" stop-color="#faff00"/><stop offset="0.6863" stop-color="#faff00"/><stop offset="0.6980" stop-color="#beff00"/><stop offset="0.6989" stop-color="#beff00"/><stop offset="0.7105" stop-color="#96ff14"/><stop offset="0.7132" stop-color="#96ff14"/><stop offset="0.7249" stop-color="#32ff64"/><stop offset="0.7257" stop-color="#32ff64"/><stop offset="0.7332" stop-color="#96ff32"/><stop offset="0.7336" stop-color="#96ff32"/><stop offset="0.7428" stop-color="#00ff82"/><stop offset="0.7777" stop-color="#00ff82"/><stop offset="0.7912" stop-color="#00ffdc"/><stop offset="0.7992" stop-color="#00ffdc"/><stop offset="0.8127" stop-color="#00f0ff"/><stop offset="0.8476" stop-color="#00f0ff"/><stop offset="0.8610" stop-color="#00ffff"/><stop offset="0.8637" stop-color="#00ffff"/><stop offset="0.8771" stop-color="#00e6ff"/><stop offset="0.9013" stop-color="#00e6ff"/><stop offset="0.9148" stop-color="#00beff"/><stop offset="0.9228" stop-color="#00beff"/><stop offset="0.9363" stop-color="#00e6ff"/><stop offset="0.9604" stop-color="#00e6ff"/><stop offset="0.9739" stop-color="#00f0ff"/><stop offset="0.9819" stop-color="#00f0ff"/><stop offset="0.9936" stop-color="#00dcff"/><stop offset="0.9944" stop-color="#00dcff"/></linearGradient><linearGradient id="cbar" gradientUnits="userSpaceOnUse" x1="0" y1="406.9" x2="0" y2="694.6"><stop offset="0.0000" stop-color="#ff3270"/><stop offset="0.0125" stop-color="#ff3270"/><stop offset="0.0129" stop-color="#ff0000"/><stop offset="0.0838" stop-color="#ff0000"/><stop offset="0.2228" stop-color="#ff8c00"/><stop offset="0.3723" stop-color="#ffff00"/><stop offset="0.5078" stop-color="#80ff80"/><stop offset="0.6434" stop-color="#00ffff"/><stop offset="0.7894" stop-color="#0080ff"/><stop offset="0.9353" stop-color="#0000ff"/><stop offset="1.0000" stop-color="#00008c"/></linearGradient></defs>
<rect x="82.0" y="407.0" width="326.8" height="56.4" fill="url(#hr1)" shape-rendering="crispEdges"/>
<rect x="82.0" y="463.0" width="326.8" height="59.9" fill="url(#hr2)" shape-rendering="crispEdges"/>
<rect x="82.0" y="522.5" width="326.8" height="60.5" fill="url(#hr3)" shape-rendering="crispEdges"/>
<rect x="82.0" y="582.6" width="326.8" height="60.0" fill="url(#hr4)" shape-rendering="crispEdges"/>
<rect x="82.0" y="642.2" width="326.8" height="56.4" fill="url(#hr5)" shape-rendering="crispEdges"/>
<rect x="79.6" y="406.5" width="2.5" height="294" fill="#231815"/>
<rect x="79.6" y="697.8" width="329.4" height="2.6" fill="#231815"/>
<rect x="75.2" y="433.4" width="5" height="2.3" fill="#231815"/>
<rect x="75.2" y="492.4" width="5" height="2.3" fill="#231815"/>
<rect x="75.2" y="551.9" width="5" height="2.3" fill="#231815"/>
<rect x="75.2" y="611.1999999999999" width="5" height="2.3" fill="#231815"/>
<rect x="75.2" y="670.6999999999999" width="5" height="2.3" fill="#231815"/>
<text x="69.8" y="440.7" font-size="23.5" text-anchor="end" fill="#231815" stroke="#231815" stroke-width="0.35">1</text>
<text x="69.8" y="499.7" font-size="23.5" text-anchor="end" fill="#231815" stroke="#231815" stroke-width="0.35">2</text>
<text x="69.8" y="559.2" font-size="23.5" text-anchor="end" fill="#231815" stroke="#231815" stroke-width="0.35">3</text>
<text x="69.8" y="618.5" font-size="23.5" text-anchor="end" fill="#231815" stroke="#231815" stroke-width="0.35">4</text>
<text x="69.8" y="678.0" font-size="23.5" text-anchor="end" fill="#231815" stroke="#231815" stroke-width="0.35">5</text>
<text x="79.8" y="727.2" font-size="23.5" text-anchor="middle" fill="#231815" stroke="#231815" stroke-width="0.35">-5</text>
<text x="160.6" y="727.2" font-size="23.5" text-anchor="middle" fill="#231815" stroke="#231815" stroke-width="0.35">0</text>
<text x="244.1" y="727.2" font-size="23.5" text-anchor="middle" fill="#231815" stroke="#231815" stroke-width="0.35">5</text>
<text x="328.6" y="727.2" font-size="23.5" text-anchor="middle" fill="#231815" stroke="#231815" stroke-width="0.35">10</text>
<text x="406.7" y="727.2" font-size="23.5" text-anchor="middle" fill="#231815" stroke="#231815" stroke-width="0.35">15</text>
<text x="249.9" y="750.3" font-size="23.5" text-anchor="middle" fill="#231815" stroke="#231815" stroke-width="0.35">Time (s)</text>
<text transform="translate(47.5,549.6) rotate(-90)" font-size="23.5" text-anchor="middle" fill="#231815" stroke="#231815" stroke-width="0.35">Trials</text>
<rect x="165.4" y="394" width="241.4" height="5.7" fill="#000"/>
<text x="283.5" y="384.7" font-size="23.5" text-anchor="middle" fill="#231815" stroke="#231815" stroke-width="0.35">Cold</text>
<rect x="423" y="406.9" width="16" height="287.7" fill="url(#cbar)"/>
<text x="444.2" y="415.90000000000003" font-size="23.5" text-anchor="start" fill="#231815" stroke="#231815" stroke-width="0.35">80</text>
<text x="444.2" y="480.0" font-size="23.5" text-anchor="start" fill="#231815" stroke="#231815" stroke-width="0.35">60</text>
<text x="444.2" y="544.9" font-size="23.5" text-anchor="start" fill="#231815" stroke="#231815" stroke-width="0.35">40</text>
<text x="444.2" y="606.5" font-size="23.5" text-anchor="start" fill="#231815" stroke="#231815" stroke-width="0.35">20</text>
<text x="449.6" y="671.3" font-size="23.5" text-anchor="start" fill="#231815" stroke="#231815" stroke-width="0.35">0</text>
<text x="444.5" y="694.4" font-size="23.5" text-anchor="start" fill="#231815" stroke="#231815" stroke-width="0.35" textLength="94" lengthAdjust="spacingAndGlyphs">ΔF/F (%)</text>
<rect x="655.2" y="412.7" width="273.7" height="284.5" fill="#efefef"/>
<path d="M583.5,619.0V636.8M584.4,627.9V636.3M585.3,623.5V633.8M586.2,627.6V643.2M587.1,621.8V636.7M588.0,623.1V633.5M588.9,622.7V632.9M589.8,623.1V638.4M590.7,620.3V630.0M591.6,620.7V636.6M592.5,612.1V628.0M593.4,620.9V640.2M594.3,624.9V639.1M595.2,625.0V645.8M596.1,623.3V637.4M597.0,626.6V642.6M597.9,623.2V641.2M598.8,622.5V643.5M599.7,628.8V649.4M600.6,625.4V643.0M601.5,630.1V641.7M602.4,631.1V644.4M603.3,624.4V649.7M604.2,631.2V651.6M605.1,631.1V641.5M606.0,621.4V639.2M606.9,630.7V638.6M607.8,629.9V638.3M608.7,622.8V639.5M609.6,630.6V643.7M610.5,629.6V648.1M611.4,631.5V647.4M612.3,630.5V643.5M613.2,626.9V645.2M614.1,632.7V646.9M615.0,627.0V642.8M615.9,635.6V650.1M616.8,629.0V644.5M617.7,636.8V648.7M618.6,638.9V655.8M619.5,637.8V652.3M620.4,640.4V653.8M621.3,641.3V651.6M622.2,640.3V655.0M623.1,633.0V651.1M624.0,638.0V650.7M624.9,640.5V647.0M625.8,636.4V646.4M626.7,627.2V650.4M627.6,637.3V647.8M628.5,634.0V646.8M629.4,636.2V652.2M630.3,635.2V647.0M631.2,629.6V644.3M632.1,627.5V645.5M633.0,635.1V644.3M633.9,631.3V646.2M634.8,630.8V644.6M635.7,637.9V646.4M636.6,634.9V654.1M637.5,634.8V647.6M638.4,630.4V640.6M639.3,630.5V641.2M640.2,625.4V636.0M641.1,620.6V633.5M642.0,620.5V631.8M642.9,618.9V628.9M643.8,616.6V638.6M644.7,624.1V638.0M645.6,616.0V634.8M646.5,624.8V637.5M647.4,627.6V642.7M648.3,625.5V641.2M649.2,632.7V644.7M650.1,633.5V649.5M651.0,635.7V651.6M651.9,635.3V646.2M652.8,631.1V652.5M653.7,629.4V648.2M654.6,633.1V651.1M655.5,636.4V649.8M656.4,633.0V657.5M657.3,642.4V657.1M658.2,642.0V655.0M659.1,640.6V657.0M660.0,642.7V654.2M660.9,647.4V659.1M661.8,643.4V655.3M662.7,644.0V658.4M663.6,642.9V659.8M664.5,648.5V659.2M665.4,650.3V664.7M666.3,652.2V669.1M667.2,646.3V663.8M668.1,652.1V665.8M669.0,651.6V663.2M669.9,646.7V663.1M670.8,640.9V669.6M671.7,641.3V661.3M672.6,645.6V657.6M673.5,639.2V660.1M674.4,638.3V659.6M675.3,642.6V654.9M676.2,641.7V653.8M677.1,639.7V649.1M678.0,634.7V648.7M678.9,635.7V646.6M679.8,633.2V644.9M680.7,629.4V638.9M681.6,628.5V638.9M682.5,625.7V642.3M683.4,627.5V636.0M684.3,625.1V636.9M685.2,629.1V642.9M686.1,631.6V641.8M687.0,629.7V639.3M687.9,623.6V635.5M688.8,624.9V639.5M689.7,618.9V633.1M690.6,620.4V630.9M691.5,625.4V642.6M692.4,622.4V635.5M693.3,628.5V645.0M694.2,629.0V645.4M695.1,639.1V653.4M696.0,642.4V650.6M696.9,645.1V654.5M697.8,647.6V659.3M698.7,647.1V661.2M699.6,651.4V660.9M700.5,645.8V663.2M701.4,644.2V662.0M702.3,647.0V661.4M703.2,653.4V664.0M704.1,652.6V664.9M705.0,654.1V667.8M705.9,650.2V662.9M706.8,648.4V662.9M707.7,647.0V658.4M708.6,635.6V659.3M709.5,643.3V664.2M710.4,635.0V651.9M711.3,638.7V649.4M712.2,638.5V653.2M713.1,631.9V650.2M714.0,634.8V643.7M714.9,629.1V647.4M715.8,632.9V646.9M716.7,624.2V640.4M717.6,625.7V644.3M718.5,634.4V643.1M719.4,628.7V644.8M720.3,633.5V645.4M721.2,638.5V652.5" stroke="#666" stroke-width="1.0" stroke-opacity="0.75" fill="none"/>
<path d="M583.5,630.3V648.6M584.4,634.3V648.6M585.3,632.5V646.0M586.2,636.1V648.7M587.1,628.4V650.1M588.0,638.6V649.4M588.9,639.5V649.4M589.8,638.6V653.9M590.7,640.4V649.3M591.6,636.0V654.7M592.5,640.3V650.9M593.4,642.9V651.1M594.3,641.2V656.3M595.2,643.0V657.0M596.1,642.9V657.2M597.0,643.7V650.8M597.9,634.1V652.9M598.8,633.7V649.0M599.7,633.0V646.7M600.6,634.2V645.5M601.5,628.4V645.2M602.4,624.5V651.3M603.3,635.9V653.1M604.2,636.9V643.6M605.1,627.4V644.1M606.0,638.0V648.5M606.9,637.2V650.6M607.8,639.0V648.2M608.7,639.3V651.8M609.6,642.8V651.5M610.5,641.3V659.8M611.4,641.9V657.7M612.3,644.6V659.2M613.2,645.8V657.2M614.1,639.5V657.3M615.0,646.2V654.7M615.9,642.3V652.6M616.8,645.2V656.9M617.7,632.9V659.6M618.6,646.6V653.7M619.5,644.9V653.3M620.4,645.8V656.1M621.3,642.4V653.6M622.2,638.9V656.5M623.1,645.8V654.2M624.0,636.7V654.5M624.9,638.9V648.7M625.8,628.2V642.6M626.7,628.1V642.0M627.6,629.9V645.1M628.5,636.8V647.7M629.4,638.3V654.6M630.3,640.2V656.8M631.2,644.5V654.9M632.1,644.6V655.0M633.0,645.2V665.8M633.9,645.5V660.7M634.8,648.3V658.9M635.7,645.7V658.3M636.6,644.4V657.1M637.5,648.0V658.7M638.4,647.8V661.2M639.3,650.6V659.4M640.2,648.8V660.6M641.1,647.7V657.9M642.0,648.2V657.4M642.9,647.0V658.5M643.8,638.4V658.0M644.7,645.2V655.2M645.6,643.4V654.9M646.5,641.5V664.8M647.4,642.9V656.0M648.3,644.4V654.1M649.2,640.9V652.9M650.1,634.1V661.4M651.0,640.1V648.9M651.9,640.4V648.0M652.8,632.4V648.7M653.7,631.9V646.0M654.6,630.3V640.5M655.5,624.9V632.4M656.4,617.5V626.5M657.3,611.7V621.4M658.2,603.8V618.8M659.1,598.9V615.6M660.0,598.8V611.1M660.9,592.2V607.1M661.8,592.4V603.9M662.7,587.9V598.7M663.6,583.7V592.9M664.5,581.2V589.3M665.4,576.3V588.5M666.3,570.9V583.7M667.2,565.4V581.1M668.1,563.1V575.0M669.0,558.9V571.9M669.9,554.2V575.5M670.8,555.3V564.9M671.7,550.3V562.3M672.6,545.4V558.6M673.5,542.4V555.1M674.4,541.5V559.5M675.3,539.3V559.3" stroke="#ff6060" stroke-width="1.0" stroke-opacity="0.7" fill="none"/>
<polygon points="717.6,632.3 718.4,631.7 719.2,625.5 720.0,621.2 720.8,622.0 721.6,625.0 722.4,618.9 723.2,615.0 724.0,621.3 724.8,620.5 725.6,622.1 726.4,614.6 727.2,615.0 728.0,619.7 728.8,620.3 729.6,620.4 730.4,618.9 731.2,619.7 732.0,616.2 732.8,613.7 733.6,619.3 734.4,613.9 735.2,612.3 736.0,619.0 736.8,614.3 737.6,617.6 738.4,616.4 739.2,617.3 740.0,613.2 740.8,609.1 741.6,604.8 742.4,615.1 743.2,615.2 744.0,614.8 744.8,613.6 745.6,614.3 746.4,611.4 747.2,610.6 748.0,613.9 748.8,610.6 749.6,608.4 750.4,611.4 751.2,611.4 752.0,600.8 752.8,607.7 753.6,612.6 754.4,608.9 755.2,611.8 756.0,614.1 756.8,607.5 757.6,596.9 758.4,614.3 759.2,612.5 760.0,614.2 760.8,613.0 761.6,614.8 762.4,615.8 763.2,613.7 764.0,616.0 764.8,609.5 765.6,613.1 766.4,613.9 767.2,613.1 768.0,608.8 768.8,614.6 769.6,612.1 770.4,614.2 771.2,612.8 772.0,602.3 772.8,610.3 773.6,607.5 774.4,612.9 775.2,611.7 776.0,607.7 776.8,603.6 777.6,611.1 778.4,612.7 779.2,607.8 780.0,611.5 780.8,609.5 781.6,609.6 782.4,607.9 783.2,610.0 784.0,611.4 784.8,601.5 785.6,613.8 786.4,615.4 787.2,611.3 788.0,606.1 788.8,608.0 789.6,618.4 790.4,615.3 791.2,615.3 792.0,611.9 792.8,617.7 793.6,607.7 794.4,615.7 795.2,610.0 796.0,613.6 796.8,609.0 797.6,608.0 798.4,610.2 799.2,611.6 800.0,613.3 800.8,612.1 801.6,614.5 802.4,615.3 803.2,613.5 804.0,613.4 804.8,609.3 805.6,614.7 806.4,614.1 807.2,613.7 808.0,615.4 808.8,609.8 809.6,608.6 810.4,613.9 811.2,612.4 812.0,605.0 812.8,608.5 813.6,605.0 814.4,600.4 815.2,601.4 816.0,594.1 816.8,599.4 817.6,595.0 818.4,598.7 819.2,595.4 820.0,594.1 820.8,594.7 821.6,596.6 822.4,595.8 823.2,597.0 824.0,598.1 824.8,596.5 825.6,598.5 826.4,599.1 827.2,593.0 828.0,597.9 828.8,600.3 829.6,592.9 830.4,603.1 831.2,602.2 832.0,604.0 832.8,594.9 833.6,593.2 834.4,604.8 835.2,606.7 836.0,602.3 836.8,610.3 837.6,610.3 838.4,604.2 839.2,609.3 840.0,609.7 840.8,607.2 841.6,601.6 842.4,605.3 843.2,610.5 844.0,610.9 844.8,612.2 845.6,612.7 846.4,603.2 847.2,614.3 848.0,610.6 848.8,615.7 849.6,615.1 850.4,612.1 851.2,608.1 852.0,606.4 852.8,607.8 853.6,604.7 854.4,580.4 855.2,602.8 856.0,600.7 856.8,598.5 857.6,602.1 858.4,603.1 859.2,604.8 860.0,603.6 860.8,601.1 861.6,606.0 862.4,601.9 863.2,604.7 864.0,596.2 864.8,603.4 865.6,602.5 866.4,603.0 867.2,601.4 868.0,597.2 868.8,592.3 869.6,597.6 870.4,599.9 871.2,600.7 872.0,593.8 872.8,600.5 873.6,594.1 874.4,598.4 875.2,596.6 876.0,594.6 876.8,586.7 877.6,599.9 878.4,599.3 879.2,602.3 880.0,597.8 880.8,604.8 881.6,597.9 882.4,595.4 883.2,605.3 884.0,594.5 884.8,605.9 885.6,602.3 886.4,599.4 887.2,604.1 888.0,598.2 888.8,603.8 889.6,596.4 890.4,594.2 891.2,586.2 892.0,594.7 892.8,593.2 893.6,589.7 894.4,589.4 895.2,590.3 896.0,590.7 896.8,589.2 897.6,591.5 898.4,590.9 899.2,581.8 900.0,587.4 900.8,587.2 901.6,575.2 902.4,590.5 903.2,592.9 904.0,581.9 904.8,596.3 905.6,592.2 906.4,586.8 907.2,603.4 908.0,605.9 908.8,604.5 909.6,607.8 910.4,607.0 911.2,616.9 912.0,618.3 912.8,620.8 913.6,616.0 914.4,625.2 915.2,627.4 916.0,630.1 916.8,630.5 917.6,627.8 918.4,629.3 919.2,622.7 920.0,631.9 920.8,628.6 921.6,626.2 922.4,632.5 923.2,631.7 924.0,631.1 924.8,630.3 925.6,621.6 926.4,625.7 927.2,627.1 928.0,626.5 928.0,657.7 927.2,654.0 926.4,657.0 925.6,658.5 924.8,661.9 924.0,658.6 923.2,660.1 922.4,675.3 921.6,659.6 920.8,660.1 920.0,670.0 919.2,671.1 918.4,664.8 917.6,662.7 916.8,661.1 916.0,661.2 915.2,663.1 914.4,659.5 913.6,659.8 912.8,659.3 912.0,665.4 911.2,661.9 910.4,660.1 909.6,662.7 908.8,668.2 908.0,662.2 907.2,656.9 906.4,655.6 905.6,660.3 904.8,654.1 904.0,653.6 903.2,655.6 902.4,657.1 901.6,653.4 900.8,654.6 900.0,653.0 899.2,658.4 898.4,651.9 897.6,648.5 896.8,652.7 896.0,650.4 895.2,649.4 894.4,647.4 893.6,646.4 892.8,644.9 892.0,644.4 891.2,642.0 890.4,643.4 889.6,650.1 888.8,645.6 888.0,639.9 887.2,638.3 886.4,646.2 885.6,643.2 884.8,644.6 884.0,643.6 883.2,653.4 882.4,639.2 881.6,638.9 880.8,639.2 880.0,639.2 879.2,643.8 878.4,644.7 877.6,644.8 876.8,639.4 876.0,642.4 875.2,638.4 874.4,637.7 873.6,641.9 872.8,635.4 872.0,637.4 871.2,634.7 870.4,635.6 869.6,635.4 868.8,638.6 868.0,635.7 867.2,633.6 866.4,638.4 865.6,638.6 864.8,636.2 864.0,634.2 863.2,635.1 862.4,635.9 861.6,637.5 860.8,637.3 860.0,644.4 859.2,637.7 858.4,637.0 857.6,641.8 856.8,639.9 856.0,642.0 855.2,654.0 854.4,646.3 853.6,659.3 852.8,652.1 852.0,656.0 851.2,660.2 850.4,663.8 849.6,662.8 848.8,661.7 848.0,660.4 847.2,661.3 846.4,654.3 845.6,655.2 844.8,656.1 844.0,655.2 843.2,655.2 842.4,659.8 841.6,651.2 840.8,647.7 840.0,646.7 839.2,645.7 838.4,644.7 837.6,644.4 836.8,642.3 836.0,645.2 835.2,642.4 834.4,642.3 833.6,639.8 832.8,645.2 832.0,649.7 831.2,640.4 830.4,637.3 829.6,636.7 828.8,636.7 828.0,642.7 827.2,639.3 826.4,642.5 825.6,647.0 824.8,646.7 824.0,653.5 823.2,659.4 822.4,654.2 821.6,664.0 820.8,657.3 820.0,658.1 819.2,658.9 818.4,658.8 817.6,655.9 816.8,657.9 816.0,656.7 815.2,655.7 814.4,673.9 813.6,660.5 812.8,658.6 812.0,659.9 811.2,655.1 810.4,653.5 809.6,655.3 808.8,655.5 808.0,654.7 807.2,653.1 806.4,654.0 805.6,663.2 804.8,656.0 804.0,659.5 803.2,663.0 802.4,657.1 801.6,655.6 800.8,656.6 800.0,661.4 799.2,658.0 798.4,659.6 797.6,657.7 796.8,664.7 796.0,659.4 795.2,659.3 794.4,662.9 793.6,661.4 792.8,662.7 792.0,662.8 791.2,661.3 790.4,663.6 789.6,675.2 788.8,667.6 788.0,670.0 787.2,667.1 786.4,663.4 785.6,664.5 784.8,664.4 784.0,666.1 783.2,677.4 782.4,666.8 781.6,662.8 780.8,662.7 780.0,673.3 779.2,660.7 778.4,661.3 777.6,660.8 776.8,667.0 776.0,658.8 775.2,659.3 774.4,669.3 773.6,660.6 772.8,670.0 772.0,673.7 771.2,672.4 770.4,665.7 769.6,670.3 768.8,671.6 768.0,672.5 767.2,674.8 766.4,681.9 765.6,672.2 764.8,676.4 764.0,675.1 763.2,670.6 762.4,671.9 761.6,669.3 760.8,668.3 760.0,667.6 759.2,669.2 758.4,673.3 757.6,669.1 756.8,664.3 756.0,666.8 755.2,663.4 754.4,662.8 753.6,675.2 752.8,663.0 752.0,665.4 751.2,660.1 750.4,659.8 749.6,662.5 748.8,662.1 748.0,661.7 747.2,661.5 746.4,659.0 745.6,659.2 744.8,659.5 744.0,658.6 743.2,658.9 742.4,659.6 741.6,660.0 740.8,663.1 740.0,661.5 739.2,660.8 738.4,661.6 737.6,662.7 736.8,670.1 736.0,663.4 735.2,661.9 734.4,664.6 733.6,662.0 732.8,660.6 732.0,662.3 731.2,661.2 730.4,660.1 729.6,660.0 728.8,659.2 728.0,662.5 727.2,657.3 726.4,657.4 725.6,656.7 724.8,658.8 724.0,653.2 723.2,660.8 722.4,653.7 721.6,651.4 720.8,654.3 720.0,651.3 719.2,647.1 718.4,646.9 717.6,643.2" fill="#6e6e6e" fill-opacity="0.55"/>
<polygon points="680.8,544.5 681.6,545.4 682.4,542.4 683.2,544.6 684.0,546.7 684.8,543.3 685.6,542.5 686.4,537.4 687.2,525.6 688.0,521.5 688.8,504.3 689.6,491.4 690.4,488.3 691.2,484.1 692.0,488.6 692.8,485.1 693.6,477.7 694.4,477.8 695.2,473.2 696.0,464.9 696.8,451.9 697.6,440.4 698.4,434.8 699.2,445.9 700.0,453.1 700.8,445.6 701.6,462.7 702.4,473.7 703.2,466.7 704.0,476.2 704.8,474.9 705.6,479.5 706.4,474.4 707.2,481.7 708.0,461.2 708.8,475.4 709.6,465.1 710.4,468.4 711.2,464.4 712.0,454.4 712.8,456.3 713.6,454.5 714.4,453.1 715.2,458.8 716.0,466.0 716.8,465.7 717.6,476.2 718.4,472.6 719.2,473.6 720.0,478.7 720.8,471.7 721.6,464.6 722.4,455.4 723.2,446.8 724.0,452.2 724.8,453.1 725.6,446.3 726.4,447.0 727.2,448.9 728.0,441.2 728.8,461.5 729.6,431.2 730.4,462.2 731.2,466.7 732.0,468.3 732.8,469.6 733.6,463.4 734.4,471.3 735.2,467.9 736.0,472.2 736.8,474.2 737.6,475.9 738.4,481.2 739.2,479.7 740.0,486.5 740.8,489.6 741.6,494.4 742.4,493.8 743.2,494.7 744.0,493.7 744.8,502.9 745.6,504.2 746.4,504.1 747.2,510.1 748.0,509.8 748.8,515.0 749.6,518.4 750.4,520.3 751.2,522.5 752.0,507.7 752.8,526.0 753.6,529.2 754.4,525.3 755.2,532.5 756.0,530.0 756.8,531.6 757.6,538.0 758.4,541.9 759.2,537.6 760.0,545.9 760.8,540.8 761.6,540.0 762.4,535.8 763.2,538.2 764.0,541.2 764.8,538.6 765.6,541.1 766.4,540.4 767.2,539.7 768.0,541.2 768.8,541.9 769.6,542.9 770.4,535.9 771.2,530.3 772.0,538.4 772.8,538.7 773.6,547.9 774.4,540.7 775.2,552.7 776.0,556.5 776.8,557.6 777.6,556.5 778.4,559.8 779.2,560.7 780.0,561.2 780.8,560.0 781.6,561.5 782.4,555.9 783.2,560.7 784.0,540.9 784.8,571.2 785.6,569.5 786.4,575.6 787.2,572.2 788.0,569.0 788.8,572.4 789.6,567.4 790.4,581.7 791.2,583.4 792.0,582.2 792.8,565.3 793.6,577.4 794.4,562.7 795.2,573.0 796.0,578.0 796.8,567.2 797.6,574.4 798.4,570.8 799.2,577.0 800.0,576.6 800.8,574.5 801.6,574.4 802.4,571.6 803.2,577.9 804.0,578.0 804.8,581.1 805.6,569.1 806.4,584.5 807.2,580.6 808.0,587.2 808.8,585.4 809.6,589.8 810.4,590.7 811.2,592.1 812.0,592.2 812.8,586.5 813.6,582.9 814.4,575.0 815.2,574.0 816.0,572.3 816.8,569.3 817.6,561.5 818.4,562.2 819.2,564.0 820.0,566.0 820.8,559.4 821.6,567.1 822.4,574.7 823.2,575.4 824.0,576.2 824.8,583.0 825.6,575.4 826.4,582.0 827.2,582.5 828.0,581.2 828.8,581.8 829.6,578.9 830.4,579.0 831.2,578.4 832.0,581.9 832.8,579.7 833.6,584.1 834.4,586.8 835.2,574.9 836.0,584.2 836.8,574.4 837.6,567.0 838.4,567.0 839.2,561.5 840.0,562.7 840.8,557.9 841.6,554.1 842.4,547.5 843.2,536.3 844.0,543.6 844.8,545.0 845.6,547.2 846.4,537.3 847.2,548.6 848.0,553.6 848.8,555.6 849.6,554.4 850.4,552.5 851.2,546.4 852.0,553.1 852.8,557.2 853.6,555.9 854.4,558.7 855.2,557.6 856.0,550.1 856.8,563.2 857.6,562.7 858.4,563.8 859.2,569.0 860.0,570.2 860.8,567.7 861.6,578.5 862.4,580.0 863.2,571.1 864.0,581.5 864.8,579.7 865.6,569.9 866.4,579.5 867.2,579.9 868.0,575.2 868.8,571.5 869.6,572.6 870.4,577.3 871.2,571.1 872.0,571.0 872.8,575.9 873.6,574.8 874.4,564.1 875.2,567.7 876.0,571.7 876.8,577.5 877.6,575.8 878.4,569.6 879.2,582.9 880.0,577.8 880.8,577.3 881.6,579.4 882.4,588.7 883.2,578.4 884.0,583.1 884.8,585.5 885.6,577.0 886.4,574.8 887.2,589.6 888.0,582.4 888.8,583.4 889.6,583.5 890.4,578.7 891.2,578.0 892.0,576.3 892.8,574.9 893.6,570.2 894.4,570.8 895.2,569.3 896.0,566.4 896.8,566.9 897.6,564.8 898.4,572.8 899.2,576.0 900.0,572.7 900.8,572.3 901.6,575.8 902.4,585.4 903.2,583.3 904.0,588.1 904.8,587.5 905.6,581.4 906.4,593.4 907.2,583.3 908.0,589.6 908.8,599.5 909.6,593.5 910.4,603.7 911.2,601.7 912.0,602.8 912.8,608.1 913.6,615.2 914.4,621.4 915.2,614.1 916.0,623.4 916.8,625.9 917.6,622.6 918.4,621.3 919.2,621.4 920.0,626.0 920.8,626.0 921.6,623.7 922.4,619.1 923.2,613.0 924.0,620.9 924.8,618.5 925.6,614.8 926.4,615.3 927.2,620.2 928.0,613.6 928.0,653.2 927.2,655.0 926.4,658.5 925.6,661.7 924.8,676.0 924.0,674.8 923.2,660.5 922.4,664.3 921.6,664.0 920.8,662.1 920.0,671.5 919.2,665.7 918.4,665.4 917.6,666.4 916.8,666.3 916.0,671.5 915.2,665.5 914.4,665.6 913.6,669.1 912.8,661.3 912.0,664.3 911.2,662.3 910.4,669.8 909.6,658.3 908.8,661.1 908.0,660.3 907.2,659.6 906.4,666.8 905.6,659.4 904.8,656.0 904.0,654.6 903.2,668.8 902.4,653.3 901.6,651.7 900.8,650.7 900.0,650.6 899.2,659.0 898.4,651.2 897.6,646.4 896.8,649.5 896.0,644.3 895.2,647.4 894.4,646.7 893.6,661.1 892.8,642.0 892.0,640.1 891.2,656.4 890.4,640.1 889.6,639.2 888.8,634.1 888.0,632.3 887.2,632.6 886.4,628.5 885.6,627.4 884.8,628.9 884.0,648.0 883.2,618.4 882.4,617.6 881.6,617.2 880.8,615.8 880.0,615.6 879.2,614.2 878.4,614.3 877.6,613.9 876.8,624.8 876.0,613.8 875.2,620.9 874.4,625.3 873.6,613.4 872.8,609.6 872.0,614.8 871.2,616.2 870.4,613.2 869.6,615.4 868.8,610.9 868.0,611.4 867.2,612.0 866.4,652.2 865.6,613.7 864.8,620.4 864.0,622.3 863.2,627.9 862.4,620.6 861.6,620.7 860.8,625.4 860.0,624.6 859.2,628.3 858.4,631.7 857.6,630.2 856.8,632.6 856.0,645.0 855.2,651.9 854.4,645.5 853.6,646.0 852.8,647.8 852.0,658.0 851.2,652.3 850.4,654.6 849.6,674.0 848.8,665.2 848.0,657.4 847.2,655.8 846.4,655.8 845.6,673.2 844.8,655.5 844.0,653.5 843.2,679.2 842.4,656.1 841.6,651.2 840.8,653.2 840.0,649.5 839.2,648.5 838.4,652.1 837.6,646.6 836.8,644.3 836.0,643.1 835.2,640.1 834.4,643.6 833.6,638.9 832.8,636.2 832.0,639.1 831.2,635.9 830.4,640.7 829.6,635.5 828.8,634.4 828.0,632.5 827.2,636.2 826.4,644.0 825.6,640.8 824.8,642.6 824.0,646.7 823.2,654.6 822.4,655.9 821.6,653.7 820.8,661.5 820.0,652.3 819.2,658.7 818.4,657.4 817.6,650.9 816.8,663.8 816.0,648.1 815.2,650.2 814.4,643.1 813.6,639.2 812.8,651.9 812.0,634.9 811.2,630.3 810.4,646.8 809.6,627.6 808.8,623.2 808.0,624.7 807.2,620.7 806.4,618.7 805.6,622.0 804.8,618.2 804.0,613.8 803.2,615.5 802.4,613.7 801.6,609.3 800.8,617.9 800.0,610.0 799.2,607.8 798.4,608.3 797.6,624.9 796.8,612.6 796.0,614.4 795.2,617.7 794.4,614.2 793.6,619.2 792.8,617.1 792.0,618.4 791.2,617.3 790.4,625.5 789.6,615.0 788.8,614.1 788.0,614.9 787.2,615.8 786.4,615.4 785.6,623.8 784.8,610.2 784.0,610.5 783.2,615.8 782.4,606.0 781.6,613.4 780.8,605.2 780.0,602.1 779.2,600.6 778.4,604.7 777.6,600.8 776.8,611.8 776.0,600.5 775.2,605.2 774.4,601.3 773.6,600.5 772.8,603.9 772.0,602.3 771.2,602.6 770.4,618.7 769.6,600.4 768.8,601.4 768.0,609.4 767.2,611.4 766.4,616.8 765.6,607.6 764.8,606.5 764.0,610.5 763.2,605.0 762.4,603.6 761.6,605.1 760.8,606.1 760.0,604.8 759.2,606.9 758.4,607.8 757.6,606.5 756.8,605.7 756.0,615.7 755.2,604.8 754.4,611.7 753.6,607.2 752.8,604.7 752.0,612.7 751.2,625.4 750.4,601.4 749.6,602.2 748.8,590.4 748.0,592.3 747.2,596.0 746.4,582.2 745.6,585.4 744.8,587.3 744.0,597.9 743.2,603.5 742.4,576.3 741.6,578.3 740.8,582.2 740.0,593.6 739.2,586.8 738.4,583.9 737.6,598.7 736.8,585.6 736.0,588.0 735.2,590.8 734.4,599.5 733.6,591.4 732.8,589.5 732.0,588.7 731.2,593.3 730.4,585.5 729.6,588.0 728.8,587.2 728.0,580.7 727.2,600.6 726.4,583.4 725.6,579.1 724.8,575.9 724.0,583.6 723.2,578.8 722.4,572.2 721.6,573.4 720.8,580.2 720.0,567.3 719.2,568.1 718.4,568.6 717.6,567.2 716.8,571.2 716.0,572.6 715.2,563.1 714.4,560.1 713.6,573.4 712.8,558.5 712.0,552.9 711.2,560.6 710.4,555.1 709.6,557.6 708.8,559.1 708.0,562.4 707.2,577.4 706.4,566.7 705.6,567.8 704.8,570.7 704.0,583.5 703.2,571.4 702.4,567.8 701.6,572.7 700.8,565.0 700.0,563.1 699.2,564.2 698.4,560.4 697.6,559.5 696.8,562.2 696.0,557.5 695.2,560.9 694.4,555.8 693.6,556.4 692.8,556.2 692.0,557.2 691.2,558.6 690.4,556.8 689.6,559.9 688.8,551.8 688.0,555.7 687.2,557.0 686.4,564.9 685.6,563.1 684.8,563.0 684.0,560.6 683.2,559.3 682.4,556.5 681.6,553.2 680.8,551.4" fill="#ff5a62" fill-opacity="0.5"/>
<path d="M654.4,411.7 V697" stroke="#231815" stroke-width="2.6" stroke-dasharray="4.4,4.3" stroke-dashoffset="2.6" fill="none"/>
<polyline points="583.3,630.9 584.2,626.3 585.1,630.2 586.0,626.7 586.9,632.3 587.8,629.8 588.7,628.6 589.6,628.6 590.5,627.3 591.4,626.0 592.3,625.2 593.2,624.2 594.1,624.7 595.0,630.4 595.9,634.9 596.8,635.5 597.7,634.4 598.6,637.7 599.5,637.0 600.4,639.1 601.3,636.5 602.2,637.7 603.1,641.3 604.0,638.2 604.9,639.1 605.8,633.4 606.7,632.9 607.6,633.7 608.5,634.8 609.4,633.6 610.3,636.7 611.2,633.7 612.1,638.4 613.0,638.4 613.9,634.7 614.8,639.3 615.7,638.4 616.6,642.2 617.5,640.1 618.4,643.3 619.3,645.2 620.2,639.3 621.1,641.3 622.0,645.3 622.9,644.3 623.8,646.4 624.7,644.2 625.6,640.4 626.5,643.5 627.4,640.7 628.3,641.4 629.2,640.3 630.1,641.7 631.0,637.4 631.9,637.6 632.8,634.7 633.7,644.7 634.6,638.2 635.5,639.0 636.4,638.8 637.3,639.3 638.2,636.8 639.1,636.1 640.0,632.1 640.9,630.2 641.8,626.1 642.7,625.1 643.6,627.7 644.5,627.0 645.4,629.9 646.3,626.8 647.2,634.2 648.1,635.5 649.0,639.5 649.9,631.8 650.8,638.6 651.7,639.0 652.6,640.1 653.5,639.2" fill="none" stroke="#000000" stroke-width="6.6" stroke-linejoin="miter"/>
<polyline points="654.0,642.0 654.9,644.8 655.8,645.1 656.7,646.1 657.6,647.9 658.5,648.2 659.4,649.8 660.3,648.8 661.2,646.7 662.1,654.7 663.0,648.7 663.9,653.2 664.8,651.5 665.7,654.6 666.6,654.0 667.5,656.7 668.4,654.5 669.3,653.1 670.2,656.1 671.1,657.9 672.0,655.3 672.9,653.2 673.8,648.4 674.7,648.2 675.6,648.1 676.5,644.5 677.4,646.7 678.3,643.4 679.2,641.6 680.1,636.6 681.0,633.4 681.9,632.0 682.8,631.2 683.7,633.1 684.6,632.1 685.5,634.1 686.4,634.3 687.3,628.8 688.2,633.5 689.1,630.0 690.0,627.6 690.9,625.4 691.8,631.9 692.7,632.7 693.6,640.8 694.5,641.1 695.4,640.5 696.3,649.0 697.2,648.4 698.1,650.2 699.0,652.6 699.9,654.5 700.8,656.5 701.7,658.8 702.6,659.4 703.5,657.4 704.4,654.9 705.3,654.9 706.2,656.2 707.1,656.1 708.0,656.3 708.9,647.6 709.8,649.0 710.7,646.5 711.6,644.3 712.5,643.7 713.4,641.0 714.3,639.2 715.2,637.3 716.1,638.7 717.0,639.4 717.9,641.9 718.8,638.3 719.7,638.3 720.6,641.3 721.5,639.8 722.4,643.6 723.3,639.3 724.2,640.9 725.1,638.0 726.0,640.6 726.9,642.1 727.8,645.4 728.7,640.9 729.6,643.6 730.5,638.6 731.4,639.9 732.3,640.0 733.2,640.0 734.1,641.3 735.0,641.0 735.9,635.4 736.8,639.4 737.7,635.4 738.6,641.6 739.5,638.0 740.4,637.3 741.3,636.0 742.2,635.8 743.1,635.2 744.0,633.1 744.9,636.3 745.8,635.5 746.7,636.8 747.6,635.2 748.5,637.1 749.4,633.9 750.3,642.8 751.2,632.8 752.1,632.8 753.0,635.4 753.9,636.0 754.8,631.5 755.7,629.6 756.6,630.2 757.5,631.1 758.4,631.5 759.3,633.0 760.2,636.3 761.1,637.1 762.0,634.1 762.9,637.3 763.8,638.7 764.7,640.3 765.6,637.2 766.5,636.3 767.4,640.8 768.3,640.3 769.2,633.5 770.1,636.7 771.0,634.0 771.9,627.6 772.8,624.2 773.7,625.8 774.6,625.8 775.5,627.2 776.4,621.8 777.3,630.3 778.2,629.7 779.1,622.8 780.0,620.1 780.9,623.7 781.8,624.8 782.7,626.7 783.6,625.2 784.5,625.6 785.4,624.1 786.3,631.9 787.2,634.7 788.1,631.0 789.0,631.2 789.9,629.9 790.8,627.8 791.7,624.6 792.6,628.4 793.5,625.3 794.4,632.2 795.3,627.9 796.2,631.6 797.1,629.7 798.0,632.2 798.9,629.9 799.8,630.4 800.7,626.4 801.6,623.5 802.5,625.4 803.4,624.1 804.3,621.6 805.2,623.7 806.1,621.8 807.0,626.1 807.9,626.0 808.8,627.9 809.7,634.7 810.6,630.4 811.5,631.9 812.4,633.6 813.3,632.4 814.2,630.8 815.1,633.5 816.0,633.2 816.9,623.7 817.8,628.7 818.7,627.3 819.6,625.7 820.5,628.6 821.4,623.6 822.3,625.6 823.2,621.6 824.1,621.0 825.0,622.5 825.9,618.4 826.8,618.8 827.7,615.8 828.6,615.8 829.5,620.0 830.4,620.3 831.3,617.1 832.2,618.0 833.1,628.0 834.0,622.8 834.9,624.1 835.8,628.1 836.7,625.1 837.6,625.8 838.5,628.4 839.4,628.4 840.3,625.6 841.2,628.8 842.1,626.6 843.0,627.5 843.9,629.1 844.8,629.6 845.7,632.5 846.6,633.5 847.5,632.9 848.4,636.8 849.3,635.9 850.2,633.7 851.1,632.5 852.0,633.0 852.9,629.2 853.8,627.8 854.7,624.6 855.6,617.2 856.5,612.0 857.4,613.0 858.3,617.5 859.2,620.9 860.1,624.5 861.0,618.3 861.9,623.2 862.8,623.5 863.7,626.5 864.6,621.6 865.5,621.1 866.4,617.7 867.3,619.0 868.2,618.0 869.1,617.9 870.0,617.9 870.9,616.2 871.8,619.0 872.7,619.8 873.6,621.0 874.5,620.0 875.4,623.4 876.3,624.4 877.2,619.6 878.1,622.8 879.0,620.1 879.9,620.1 880.8,622.1 881.7,620.9 882.6,623.9 883.5,624.6 884.4,621.1 885.3,619.9 886.2,620.2 887.1,620.7 888.0,622.1 888.9,619.4 889.8,622.3 890.7,619.8 891.6,621.9 892.5,621.9 893.4,622.0 894.3,617.1 895.2,613.7 896.1,613.5 897.0,617.7 897.9,616.3 898.8,616.8 899.7,620.8 900.6,620.5 901.5,625.3 902.4,629.9 903.3,626.9 904.2,629.9 905.1,627.5 906.0,633.2 906.9,632.3 907.8,632.3 908.7,631.5 909.6,640.0 910.5,633.9 911.4,635.9 912.3,640.0 913.2,641.9 914.1,643.3 915.0,644.2 915.9,643.0 916.8,647.1 917.7,646.3 918.6,643.1 919.5,650.3 920.4,646.2 921.3,648.2 922.2,642.0 923.1,641.7 924.0,642.1 924.9,641.0 925.8,644.1 926.7,637.8 927.6,641.1 928.5,638.0" fill="none" stroke="#333333" stroke-width="6.6" stroke-linejoin="miter"/>
<polyline points="583.3,639.1 584.2,640.1 585.1,640.5 586.0,645.2 586.9,643.9 587.8,646.2 588.7,643.6 589.6,645.4 590.5,646.0 591.4,646.5 592.3,646.2 593.2,645.9 594.1,643.4 595.0,646.7 595.9,646.5 596.8,647.3 597.7,646.7 598.6,646.3 599.5,642.2 600.4,640.8 601.3,639.5 602.2,640.1 603.1,640.4 604.0,639.8 604.9,640.2 605.8,642.0 606.7,644.9 607.6,644.8 608.5,646.9 609.4,644.4 610.3,647.0 611.2,647.8 612.1,648.6 613.0,647.0 613.9,646.8 614.8,646.6 615.7,648.9 616.6,652.4 617.5,650.0 618.4,648.4 619.3,650.1 620.2,649.2 621.1,649.6 622.0,648.7 622.9,647.5 623.8,647.2 624.7,644.2 625.6,639.2 626.5,634.2 627.4,635.7 628.3,643.2 629.2,645.5 630.1,646.8 631.0,649.3 631.9,648.8 632.8,650.4 633.7,652.0 634.6,653.1 635.5,654.4 636.4,655.6 637.3,654.7 638.2,653.5 639.1,657.0 640.0,654.0 640.9,654.0 641.8,651.9 642.7,649.5 643.6,650.5 644.5,650.9 645.4,650.8 646.3,649.5 647.2,649.7 648.1,649.3 649.0,648.3 649.9,646.0 650.8,645.0 651.7,643.5 652.6,641.4 653.5,640.8 654.4,633.7 655.3,629.7 656.2,624.7 657.1,616.4 658.0,614.5 658.9,607.8 659.8,604.9 660.7,600.6 661.6,595.6 662.5,594.1 663.4,590.4 664.3,587.8 665.2,583.6 666.1,577.4 667.0,577.2 667.9,573.2 668.8,569.6 669.7,565.6 670.6,560.6 671.5,558.5 672.4,554.6 673.3,555.6 674.2,549.0 675.1,546.8 676.0,547.7 676.9,549.8 677.8,547.4 678.7,545.2 679.6,549.9 680.5,548.5 681.4,548.3 682.3,551.1 683.2,550.5 684.1,551.5 685.0,555.4 685.9,552.9 686.8,550.3 687.7,545.8 688.6,539.1 689.5,530.4 690.4,520.9 691.3,522.4 692.2,519.2 693.1,519.0 694.0,516.3 694.9,516.0 695.8,508.8 696.7,501.3 697.6,498.0 698.5,500.0 699.4,507.9 700.3,513.0 701.2,519.0 702.1,520.6 703.0,525.3 703.9,526.0 704.8,525.9 705.7,528.3 706.6,526.8 707.5,523.8 708.4,518.7 709.3,514.2 710.2,512.4 711.1,512.0 712.0,510.5 712.9,509.8 713.8,511.8 714.7,513.0 715.6,514.8 716.5,519.0 717.4,522.6 718.3,521.9 719.2,521.5 720.1,520.3 721.0,517.2 721.9,516.0 722.8,513.5 723.7,508.9 724.6,509.2 725.5,513.4 726.4,513.4 727.3,516.6 728.2,521.0 729.1,523.5 730.0,525.0 730.9,527.6 731.8,530.1 732.7,531.0 733.6,530.6 734.5,534.3 735.4,534.7 736.3,533.1 737.2,529.2 738.1,528.9 739.0,524.1 739.9,524.4 740.8,521.1 741.7,524.8 742.6,527.7 743.5,527.7 744.4,530.8 745.3,530.5 746.2,535.1 747.1,539.1 748.0,544.6 748.9,548.5 749.8,554.4 750.7,559.4 751.6,562.0 752.5,562.0 753.4,565.9 754.3,568.6 755.2,569.6 756.1,570.9 757.0,572.7 757.9,574.0 758.8,570.2 759.7,576.1 760.6,576.1 761.5,577.6 762.4,578.6 763.3,581.8 764.2,583.5 765.1,578.7 766.0,579.1 766.9,576.0 767.8,579.3 768.7,581.0 769.6,582.7 770.5,585.7 771.4,587.8 772.3,588.4 773.2,590.1 774.1,589.8 775.0,590.5 775.9,592.7 776.8,593.0 777.7,595.1 778.6,597.8 779.5,596.5 780.4,597.9 781.3,601.1 782.2,600.5 783.1,602.0 784.0,601.8 784.9,603.6 785.8,606.0 786.7,609.9 787.6,610.1 788.5,608.4 789.4,609.4 790.3,608.4 791.2,606.6 792.1,602.7 793.0,602.5 793.9,602.2 794.8,595.5 795.7,594.0 796.6,589.8 797.5,588.6 798.4,589.0 799.3,590.2 800.2,590.0 801.1,589.4 802.0,591.7 802.9,593.0 803.8,593.4 804.7,599.1 805.6,602.6 806.5,604.9 807.4,604.8 808.3,608.8 809.2,610.3 810.1,610.4 811.0,612.5 811.9,613.5 812.8,615.8 813.7,619.2 814.6,615.9 815.5,613.5 816.4,613.9 817.3,610.8 818.2,607.6 819.1,609.3 820.0,610.1 820.9,611.0 821.8,612.7 822.7,614.1 823.6,613.3 824.5,614.3 825.4,611.9 826.3,611.7 827.2,609.6 828.1,605.3 829.0,604.7 829.9,608.9 830.8,608.5 831.7,607.2 832.6,607.4 833.5,610.2 834.4,613.2 835.3,612.3 836.2,611.5 837.1,609.7 838.0,609.5 838.9,608.8 839.8,604.0 840.7,603.6 841.6,602.1 842.5,600.1 843.4,597.8 844.3,598.6 845.2,597.3 846.1,599.2 847.0,601.3 847.9,600.3 848.8,601.5 849.7,599.2 850.6,598.3 851.5,597.7 852.4,596.0 853.3,593.5 854.2,596.2 855.1,593.7 856.0,591.2 856.9,589.1 857.8,590.8 858.7,593.1 859.6,595.1 860.5,596.8 861.4,596.6 862.3,599.4 863.2,596.2 864.1,596.9 865.0,596.4 865.9,593.3 866.8,592.4 867.7,591.9 868.6,591.6 869.5,592.9 870.4,589.4 871.3,592.0 872.2,588.5 873.1,588.8 874.0,590.2 874.9,592.6 875.8,593.7 876.7,596.4 877.6,597.4 878.5,602.1 879.4,602.2 880.3,603.7 881.2,606.7 882.1,609.2 883.0,609.5 883.9,608.6 884.8,609.1 885.7,610.5 886.6,611.5 887.5,611.2 888.4,610.7 889.3,610.8 890.2,608.8 891.1,609.0 892.0,609.7 892.9,608.6 893.8,608.2 894.7,605.9 895.6,607.3 896.5,606.5 897.4,609.5 898.3,608.6 899.2,608.3 900.1,611.1 901.0,613.8 901.9,612.7 902.8,615.4 903.7,620.1 904.6,621.3 905.5,623.3 906.4,623.7 907.3,629.8 908.2,631.4 909.1,632.6 910.0,631.8 910.9,635.2 911.8,637.2 912.7,636.8 913.6,638.6 914.5,640.4 915.4,643.8 916.3,644.9 917.2,645.9 918.1,644.9 919.0,644.9 919.9,648.3 920.8,648.2 921.7,645.5 922.6,644.4 923.5,640.2 924.4,639.0 925.3,638.3 926.2,637.3 927.1,639.3 928.0,635.4" fill="none" stroke="#ff0a1c" stroke-width="4.0" stroke-linejoin="miter"/>
<rect x="581.1" y="411.2" width="2.4" height="288" fill="#231815"/>
<rect x="581" y="696.6" width="348.5" height="2.9" fill="#231815"/>
<rect x="653.3000000000001" y="697" width="2.6" height="8" fill="#231815"/>
<rect x="745.7" y="697" width="2.6" height="8" fill="#231815"/>
<rect x="836.7" y="697" width="2.6" height="8" fill="#231815"/>
<rect x="926.7" y="697" width="2.6" height="8" fill="#231815"/>
<rect x="576.8" y="411.0" width="5" height="2.2" fill="#231815"/>
<text x="574.3" y="417.5" font-size="23.5" text-anchor="end" fill="#231815" stroke="#231815" stroke-width="0.35">60</text>
<rect x="576.8" y="487.2" width="5" height="2.2" fill="#231815"/>
<text x="574.3" y="493.7" font-size="23.5" text-anchor="end" fill="#231815" stroke="#231815" stroke-width="0.35">40</text>
<rect x="576.8" y="563.4" width="5" height="2.2" fill="#231815"/>
<text x="574.3" y="569.9" font-size="23.5" text-anchor="end" fill="#231815" stroke="#231815" stroke-width="0.35">20</text>
<rect x="576.8" y="639.6" width="5" height="2.2" fill="#231815"/>
<text x="574.3" y="646.1" font-size="23.5" text-anchor="end" fill="#231815" stroke="#231815" stroke-width="0.35">0</text>
<text x="583" y="727.2" font-size="23.5" text-anchor="middle" fill="#231815" stroke="#231815" stroke-width="0.35">-5</text>
<text x="655" y="727.2" font-size="23.5" text-anchor="middle" fill="#231815" stroke="#231815" stroke-width="0.35">0</text>
<text x="747.3" y="727.2" font-size="23.5" text-anchor="middle" fill="#231815" stroke="#231815" stroke-width="0.35">5</text>
<text x="838.3" y="727.2" font-size="23.5" text-anchor="middle" fill="#231815" stroke="#231815" stroke-width="0.35">10</text>
<text x="927.8" y="727.2" font-size="23.5" text-anchor="middle" fill="#231815" stroke="#231815" stroke-width="0.35">15</text>
<text x="764.5" y="749.4" font-size="23.5" text-anchor="middle" fill="#231815" stroke="#231815" stroke-width="0.35">Time (s)</text>
<text transform="translate(538.4,542.6) rotate(-90)" font-size="22.8" text-anchor="middle" fill="#231815" stroke="#231815" stroke-width="0.35">ΔF/F (%)</text>
<rect x="654.3" y="394.3" width="274" height="5.6" fill="#000"/>
<text x="792.5" y="384.2" font-size="23.5" text-anchor="middle" fill="#231815" stroke="#231815" stroke-width="0.35">Cold</text>
<path d="M814,430.2 H842.2" stroke="#e60012" stroke-width="2.8"/>
<path d="M814,453.4 H842.2" stroke="#000" stroke-width="2.8"/>
<text x="848.3" y="436.9" font-size="23.5" text-anchor="start" fill="#000" stroke="#000" stroke-width="0.35" textLength="74" lengthAdjust="spacingAndGlyphs">488nm</text>
<text x="848.3" y="462.2" font-size="23.5" text-anchor="start" fill="#000" stroke="#000" stroke-width="0.35" textLength="74" lengthAdjust="spacingAndGlyphs">410nm</text>
<text x="9" y="777" font-size="24" text-anchor="start" fill="#231815" stroke="#231815" stroke-width="0.35">G</text>
<text x="503" y="777" font-size="24" text-anchor="start" fill="#231815" stroke="#231815" stroke-width="0.35">M</text>
</g>
</svg>
</body></html>
